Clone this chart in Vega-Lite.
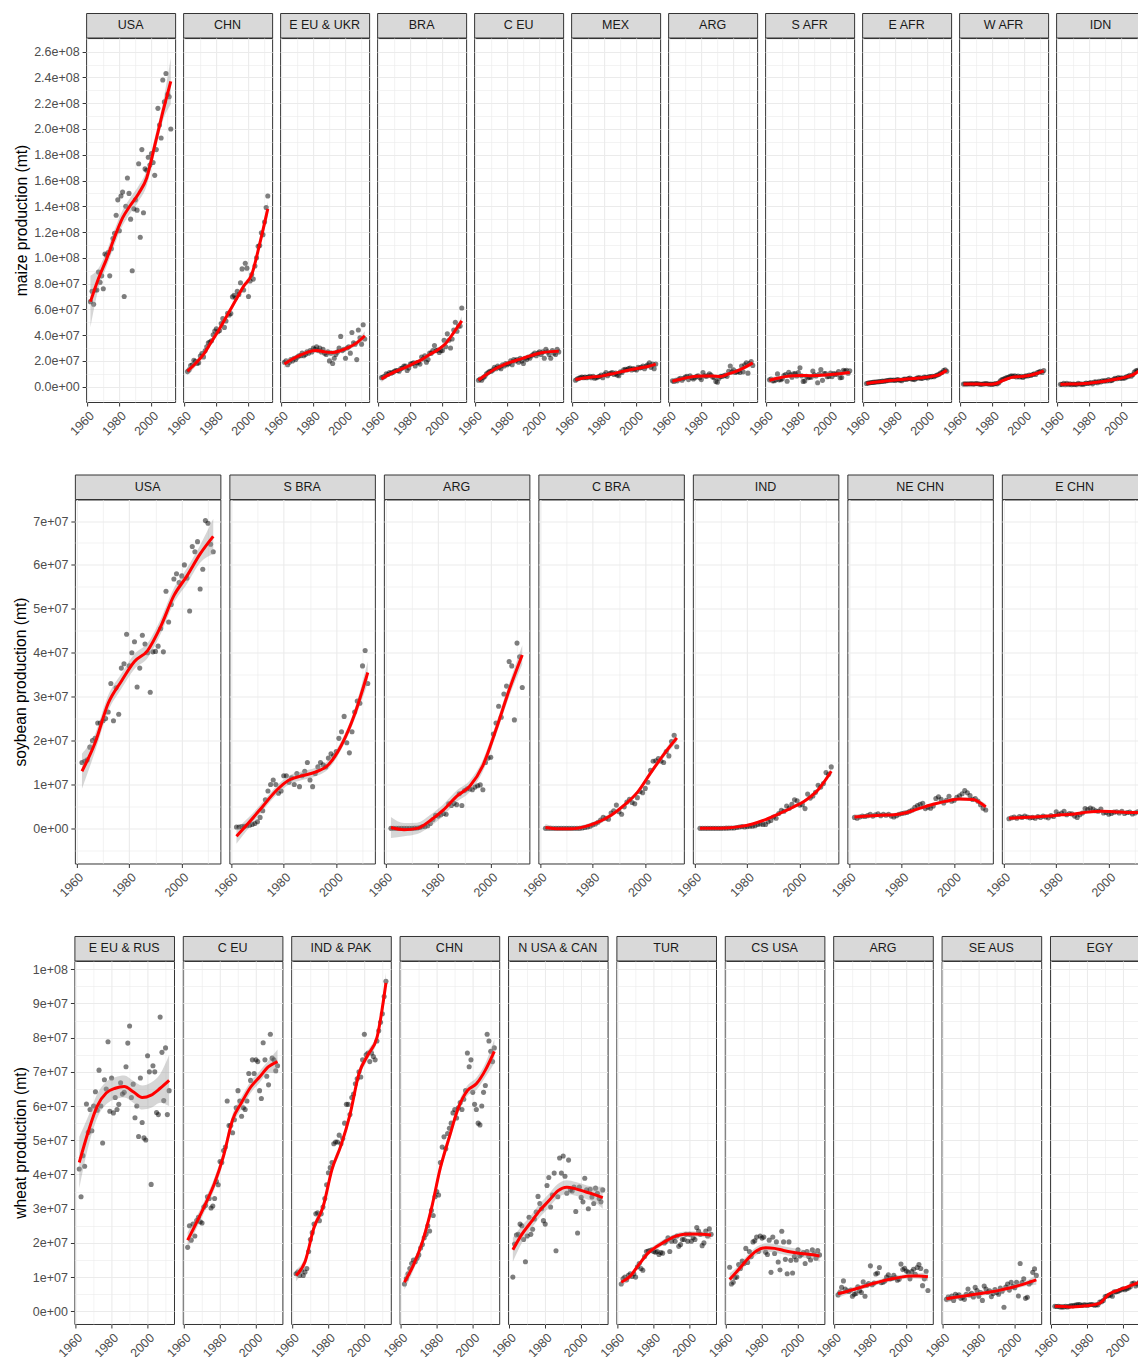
{
"$schema":"https://vega.github.io/schema/vega-lite/v6.json",
"padding":{"left":12.2,"top":12,"right":5,"bottom":2},
"background":"white",
"config":{
"font":"Liberation Sans",
"axis":{"domain":false,"labelFont":"Liberation Sans","labelFontSize":12.5,"labelColor":"#4D4D4D","tickSize":4,"tickWidth":1,"labelPadding":3,"gridColor":"#EBEBEB","titleFont":"Liberation Sans","titleFontSize":15.7,"titleFontWeight":"normal","titleColor":"#000000","titlePadding":4,"labelOverlap":false,"labelFlush":false,"labelBound":false},
"view":{"stroke":"#333333","strokeWidth":1}
},
"datasets":{
"maize":[
{"p":"USA","x":1962,"y":66},{"p":"USA","x":1963,"y":74},{"p":"USA","x":1964,"y":64},{"p":"USA","x":1965,"y":75},{"p":"USA","x":1966,"y":75},{"p":"USA","x":1967,"y":89},{"p":"USA","x":1968,"y":81},{"p":"USA","x":1969,"y":86},{"p":"USA","x":1970,"y":76},{"p":"USA","x":1971,"y":103},
{"p":"USA","x":1972,"y":102},{"p":"USA","x":1973,"y":104},{"p":"USA","x":1974,"y":86},{"p":"USA","x":1975,"y":107},{"p":"USA","x":1976,"y":115},{"p":"USA","x":1977,"y":119},{"p":"USA","x":1978,"y":133},{"p":"USA","x":1979,"y":145},{"p":"USA","x":1980,"y":121},{"p":"USA","x":1981,"y":148},
{"p":"USA","x":1982,"y":151},{"p":"USA","x":1983,"y":70},{"p":"USA","x":1984,"y":140},{"p":"USA","x":1985,"y":162},{"p":"USA","x":1986,"y":150},{"p":"USA","x":1987,"y":130},{"p":"USA","x":1988,"y":90},{"p":"USA","x":1989,"y":138},{"p":"USA","x":1990,"y":145},{"p":"USA","x":1991,"y":137},
{"p":"USA","x":1992,"y":173},{"p":"USA","x":1993,"y":116},{"p":"USA","x":1994,"y":184},{"p":"USA","x":1995,"y":135},{"p":"USA","x":1996,"y":169},{"p":"USA","x":1997,"y":168},{"p":"USA","x":1998,"y":178},{"p":"USA","x":1999,"y":172},{"p":"USA","x":2000,"y":181},{"p":"USA","x":2001,"y":174},
{"p":"USA","x":2002,"y":164},{"p":"USA","x":2003,"y":184},{"p":"USA","x":2004,"y":216},{"p":"USA","x":2005,"y":203},{"p":"USA","x":2006,"y":193},{"p":"USA","x":2007,"y":238},{"p":"USA","x":2008,"y":221},{"p":"USA","x":2009,"y":243},{"p":"USA","x":2010,"y":227},{"p":"USA","x":2011,"y":225},{"p":"USA","x":2012,"y":200},
{"p":"CHN","x":1962,"y":11.7},{"p":"CHN","x":1963,"y":13},{"p":"CHN","x":1964,"y":16.3},{"p":"CHN","x":1965,"y":17},{"p":"CHN","x":1966,"y":20.5},{"p":"CHN","x":1967,"y":19.7},{"p":"CHN","x":1968,"y":18},{"p":"CHN","x":1969,"y":18.6},{"p":"CHN","x":1970,"y":23.8},{"p":"CHN","x":1971,"y":25.8},
{"p":"CHN","x":1972,"y":23.1},{"p":"CHN","x":1973,"y":27.8},{"p":"CHN","x":1974,"y":31},{"p":"CHN","x":1975,"y":34},{"p":"CHN","x":1976,"y":34.7},{"p":"CHN","x":1977,"y":35.6},{"p":"CHN","x":1978,"y":40.3},{"p":"CHN","x":1979,"y":43.2},{"p":"CHN","x":1980,"y":45},{"p":"CHN","x":1981,"y":42.6},
{"p":"CHN","x":1982,"y":43.6},{"p":"CHN","x":1983,"y":49},{"p":"CHN","x":1984,"y":52.8},{"p":"CHN","x":1985,"y":46},{"p":"CHN","x":1986,"y":51},{"p":"CHN","x":1987,"y":57},{"p":"CHN","x":1988,"y":55.7},{"p":"CHN","x":1989,"y":56.8},{"p":"CHN","x":1990,"y":69.7},{"p":"CHN","x":1991,"y":71},
{"p":"CHN","x":1992,"y":68.8},{"p":"CHN","x":1993,"y":74},{"p":"CHN","x":1994,"y":71.5},{"p":"CHN","x":1995,"y":80.6},{"p":"CHN","x":1996,"y":91.4},{"p":"CHN","x":1997,"y":75},{"p":"CHN","x":1998,"y":95.8},{"p":"CHN","x":1999,"y":92},{"p":"CHN","x":2000,"y":70},{"p":"CHN","x":2001,"y":82},
{"p":"CHN","x":2002,"y":87},{"p":"CHN","x":2003,"y":83.5},{"p":"CHN","x":2004,"y":93.6},{"p":"CHN","x":2005,"y":100},{"p":"CHN","x":2006,"y":109},{"p":"CHN","x":2007,"y":109.5},{"p":"CHN","x":2008,"y":119.5},{"p":"CHN","x":2009,"y":118},{"p":"CHN","x":2010,"y":127.8},{"p":"CHN","x":2011,"y":139},{"p":"CHN","x":2012,"y":148},
{"p":"E EU & UKR","x":1962,"y":19},{"p":"E EU & UKR","x":1963,"y":20},{"p":"E EU & UKR","x":1964,"y":17},{"p":"E EU & UKR","x":1965,"y":19},{"p":"E EU & UKR","x":1966,"y":21},{"p":"E EU & UKR","x":1967,"y":20},{"p":"E EU & UKR","x":1968,"y":22},{"p":"E EU & UKR","x":1969,"y":21},{"p":"E EU & UKR","x":1970,"y":23},{"p":"E EU & UKR","x":1971,"y":24},
{"p":"E EU & UKR","x":1972,"y":24},{"p":"E EU & UKR","x":1973,"y":26},{"p":"E EU & UKR","x":1974,"y":24},{"p":"E EU & UKR","x":1975,"y":25},{"p":"E EU & UKR","x":1976,"y":27},{"p":"E EU & UKR","x":1977,"y":26},{"p":"E EU & UKR","x":1978,"y":28},{"p":"E EU & UKR","x":1979,"y":27},{"p":"E EU & UKR","x":1980,"y":30},{"p":"E EU & UKR","x":1981,"y":29},
{"p":"E EU & UKR","x":1982,"y":31},{"p":"E EU & UKR","x":1983,"y":28},{"p":"E EU & UKR","x":1984,"y":30},{"p":"E EU & UKR","x":1985,"y":27},{"p":"E EU & UKR","x":1986,"y":29},{"p":"E EU & UKR","x":1987,"y":26},{"p":"E EU & UKR","x":1988,"y":25},{"p":"E EU & UKR","x":1989,"y":27},{"p":"E EU & UKR","x":1990,"y":20},{"p":"E EU & UKR","x":1991,"y":26},
{"p":"E EU & UKR","x":1992,"y":18},{"p":"E EU & UKR","x":1993,"y":22},{"p":"E EU & UKR","x":1994,"y":25},{"p":"E EU & UKR","x":1995,"y":27},{"p":"E EU & UKR","x":1996,"y":30},{"p":"E EU & UKR","x":1997,"y":39},{"p":"E EU & UKR","x":1998,"y":28},{"p":"E EU & UKR","x":1999,"y":29},{"p":"E EU & UKR","x":2000,"y":22},{"p":"E EU & UKR","x":2001,"y":30},
{"p":"E EU & UKR","x":2002,"y":31},{"p":"E EU & UKR","x":2003,"y":26},{"p":"E EU & UKR","x":2004,"y":42},{"p":"E EU & UKR","x":2005,"y":34},{"p":"E EU & UKR","x":2006,"y":33},{"p":"E EU & UKR","x":2007,"y":21},{"p":"E EU & UKR","x":2008,"y":44},{"p":"E EU & UKR","x":2009,"y":38},{"p":"E EU & UKR","x":2010,"y":33},{"p":"E EU & UKR","x":2011,"y":48},{"p":"E EU & UKR","x":2012,"y":37},
{"p":"BRA","x":1962,"y":7},{"p":"BRA","x":1963,"y":7.5},{"p":"BRA","x":1964,"y":8},{"p":"BRA","x":1965,"y":10},{"p":"BRA","x":1966,"y":9.5},{"p":"BRA","x":1967,"y":11},{"p":"BRA","x":1968,"y":10.5},{"p":"BRA","x":1969,"y":11},{"p":"BRA","x":1970,"y":12},{"p":"BRA","x":1971,"y":12.5},
{"p":"BRA","x":1972,"y":12.5},{"p":"BRA","x":1973,"y":12},{"p":"BRA","x":1974,"y":14},{"p":"BRA","x":1975,"y":14.5},{"p":"BRA","x":1976,"y":16},{"p":"BRA","x":1977,"y":16},{"p":"BRA","x":1978,"y":12.5},{"p":"BRA","x":1979,"y":14.5},{"p":"BRA","x":1980,"y":17.5},{"p":"BRA","x":1981,"y":18},
{"p":"BRA","x":1982,"y":18.5},{"p":"BRA","x":1983,"y":16},{"p":"BRA","x":1984,"y":18.5},{"p":"BRA","x":1985,"y":19},{"p":"BRA","x":1986,"y":17.5},{"p":"BRA","x":1987,"y":23},{"p":"BRA","x":1988,"y":21.5},{"p":"BRA","x":1989,"y":24},{"p":"BRA","x":1990,"y":19},{"p":"BRA","x":1991,"y":21},
{"p":"BRA","x":1992,"y":26},{"p":"BRA","x":1993,"y":26},{"p":"BRA","x":1994,"y":28},{"p":"BRA","x":1995,"y":32},{"p":"BRA","x":1996,"y":28},{"p":"BRA","x":1997,"y":28.5},{"p":"BRA","x":1998,"y":26.5},{"p":"BRA","x":1999,"y":28},{"p":"BRA","x":2000,"y":28},{"p":"BRA","x":2001,"y":36},
{"p":"BRA","x":2002,"y":31},{"p":"BRA","x":2003,"y":41},{"p":"BRA","x":2004,"y":36},{"p":"BRA","x":2005,"y":30},{"p":"BRA","x":2006,"y":37},{"p":"BRA","x":2007,"y":44},{"p":"BRA","x":2008,"y":50},{"p":"BRA","x":2009,"y":43},{"p":"BRA","x":2010,"y":47},{"p":"BRA","x":2011,"y":47},{"p":"BRA","x":2012,"y":61},
{"p":"C EU","x":1962,"y":5},{"p":"C EU","x":1963,"y":6},{"p":"C EU","x":1964,"y":5},{"p":"C EU","x":1965,"y":7},{"p":"C EU","x":1966,"y":8},{"p":"C EU","x":1967,"y":10},{"p":"C EU","x":1968,"y":11},{"p":"C EU","x":1969,"y":12},{"p":"C EU","x":1970,"y":12},{"p":"C EU","x":1971,"y":13},
{"p":"C EU","x":1972,"y":15},{"p":"C EU","x":1973,"y":14},{"p":"C EU","x":1974,"y":16},{"p":"C EU","x":1975,"y":15},{"p":"C EU","x":1976,"y":14},{"p":"C EU","x":1977,"y":17},{"p":"C EU","x":1978,"y":16},{"p":"C EU","x":1979,"y":18},{"p":"C EU","x":1980,"y":17},{"p":"C EU","x":1981,"y":18},
{"p":"C EU","x":1982,"y":20},{"p":"C EU","x":1983,"y":17},{"p":"C EU","x":1984,"y":21},{"p":"C EU","x":1985,"y":20},{"p":"C EU","x":1986,"y":21},{"p":"C EU","x":1987,"y":19},{"p":"C EU","x":1988,"y":22},{"p":"C EU","x":1989,"y":20},{"p":"C EU","x":1990,"y":18},{"p":"C EU","x":1991,"y":22},
{"p":"C EU","x":1992,"y":21},{"p":"C EU","x":1993,"y":23},{"p":"C EU","x":1994,"y":22},{"p":"C EU","x":1995,"y":24},{"p":"C EU","x":1996,"y":25},{"p":"C EU","x":1997,"y":26},{"p":"C EU","x":1998,"y":24},{"p":"C EU","x":1999,"y":26},{"p":"C EU","x":2000,"y":27},{"p":"C EU","x":2001,"y":25},
{"p":"C EU","x":2002,"y":27},{"p":"C EU","x":2003,"y":22},{"p":"C EU","x":2004,"y":29},{"p":"C EU","x":2005,"y":27},{"p":"C EU","x":2006,"y":25},{"p":"C EU","x":2007,"y":22},{"p":"C EU","x":2008,"y":28},{"p":"C EU","x":2009,"y":26},{"p":"C EU","x":2010,"y":25},{"p":"C EU","x":2011,"y":29},{"p":"C EU","x":2012,"y":27},
{"p":"MEX","x":1962,"y":5},{"p":"MEX","x":1963,"y":6},{"p":"MEX","x":1964,"y":6.5},{"p":"MEX","x":1965,"y":7},{"p":"MEX","x":1966,"y":7.5},{"p":"MEX","x":1967,"y":7},{"p":"MEX","x":1968,"y":7.5},{"p":"MEX","x":1969,"y":7},{"p":"MEX","x":1970,"y":7.5},{"p":"MEX","x":1971,"y":8},
{"p":"MEX","x":1972,"y":7},{"p":"MEX","x":1973,"y":8},{"p":"MEX","x":1974,"y":6.5},{"p":"MEX","x":1975,"y":7},{"p":"MEX","x":1976,"y":7.5},{"p":"MEX","x":1977,"y":8},{"p":"MEX","x":1978,"y":9},{"p":"MEX","x":1979,"y":7},{"p":"MEX","x":1980,"y":9.5},{"p":"MEX","x":1981,"y":11},
{"p":"MEX","x":1982,"y":8.5},{"p":"MEX","x":1983,"y":10},{"p":"MEX","x":1984,"y":10.5},{"p":"MEX","x":1985,"y":11},{"p":"MEX","x":1986,"y":9.5},{"p":"MEX","x":1987,"y":10.5},{"p":"MEX","x":1988,"y":9},{"p":"MEX","x":1989,"y":8.5},{"p":"MEX","x":1990,"y":11.5},{"p":"MEX","x":1991,"y":11},
{"p":"MEX","x":1992,"y":13},{"p":"MEX","x":1993,"y":13.5},{"p":"MEX","x":1994,"y":13},{"p":"MEX","x":1995,"y":14},{"p":"MEX","x":1996,"y":14.5},{"p":"MEX","x":1997,"y":13},{"p":"MEX","x":1998,"y":14},{"p":"MEX","x":1999,"y":13.5},{"p":"MEX","x":2000,"y":13},{"p":"MEX","x":2001,"y":15},
{"p":"MEX","x":2002,"y":14.5},{"p":"MEX","x":2003,"y":15},{"p":"MEX","x":2004,"y":16},{"p":"MEX","x":2005,"y":14},{"p":"MEX","x":2006,"y":16},{"p":"MEX","x":2007,"y":17},{"p":"MEX","x":2008,"y":18.5},{"p":"MEX","x":2009,"y":15},{"p":"MEX","x":2010,"y":17.5},{"p":"MEX","x":2011,"y":14},{"p":"MEX","x":2012,"y":17.5},
{"p":"ARG","x":1962,"y":4.5},{"p":"ARG","x":1963,"y":4},{"p":"ARG","x":1964,"y":5},{"p":"ARG","x":1965,"y":4.5},{"p":"ARG","x":1966,"y":6},{"p":"ARG","x":1967,"y":6.5},{"p":"ARG","x":1968,"y":5},{"p":"ARG","x":1969,"y":6.5},{"p":"ARG","x":1970,"y":7.5},{"p":"ARG","x":1971,"y":8},
{"p":"ARG","x":1972,"y":5.5},{"p":"ARG","x":1973,"y":8.5},{"p":"ARG","x":1974,"y":7},{"p":"ARG","x":1975,"y":6},{"p":"ARG","x":1976,"y":7},{"p":"ARG","x":1977,"y":8},{"p":"ARG","x":1978,"y":8.5},{"p":"ARG","x":1979,"y":7},{"p":"ARG","x":1980,"y":5.5},{"p":"ARG","x":1981,"y":11},
{"p":"ARG","x":1982,"y":8.5},{"p":"ARG","x":1983,"y":8},{"p":"ARG","x":1984,"y":8.5},{"p":"ARG","x":1985,"y":10},{"p":"ARG","x":1986,"y":9},{"p":"ARG","x":1987,"y":7.5},{"p":"ARG","x":1988,"y":7},{"p":"ARG","x":1989,"y":4},{"p":"ARG","x":1990,"y":3.5},{"p":"ARG","x":1991,"y":6.5},
{"p":"ARG","x":1992,"y":8},{"p":"ARG","x":1993,"y":8},{"p":"ARG","x":1994,"y":8.5},{"p":"ARG","x":1995,"y":9},{"p":"ARG","x":1996,"y":8},{"p":"ARG","x":1997,"y":12},{"p":"ARG","x":1998,"y":16},{"p":"ARG","x":1999,"y":11.5},{"p":"ARG","x":2000,"y":13},{"p":"ARG","x":2001,"y":11},
{"p":"ARG","x":2002,"y":11.5},{"p":"ARG","x":2003,"y":12},{"p":"ARG","x":2004,"y":11},{"p":"ARG","x":2005,"y":16},{"p":"ARG","x":2006,"y":11.5},{"p":"ARG","x":2007,"y":17},{"p":"ARG","x":2008,"y":18.5},{"p":"ARG","x":2009,"y":10.5},{"p":"ARG","x":2010,"y":18},{"p":"ARG","x":2011,"y":19.5},{"p":"ARG","x":2012,"y":16.5},
{"p":"S AFR","x":1962,"y":5.3},{"p":"S AFR","x":1963,"y":6},{"p":"S AFR","x":1964,"y":4.5},{"p":"S AFR","x":1965,"y":4.6},{"p":"S AFR","x":1966,"y":5.3},{"p":"S AFR","x":1967,"y":9.9},{"p":"S AFR","x":1968,"y":5.3},{"p":"S AFR","x":1969,"y":5.4},{"p":"S AFR","x":1970,"y":6.1},{"p":"S AFR","x":1971,"y":8.6},
{"p":"S AFR","x":1972,"y":9.5},{"p":"S AFR","x":1973,"y":4.2},{"p":"S AFR","x":1974,"y":11.1},{"p":"S AFR","x":1975,"y":9.2},{"p":"S AFR","x":1976,"y":7.3},{"p":"S AFR","x":1977,"y":9.9},{"p":"S AFR","x":1978,"y":10.2},{"p":"S AFR","x":1979,"y":8.3},{"p":"S AFR","x":1980,"y":11},{"p":"S AFR","x":1981,"y":14.7},
{"p":"S AFR","x":1982,"y":8.4},{"p":"S AFR","x":1983,"y":4.1},{"p":"S AFR","x":1984,"y":4.4},{"p":"S AFR","x":1985,"y":8.1},{"p":"S AFR","x":1986,"y":7},{"p":"S AFR","x":1987,"y":7.3},{"p":"S AFR","x":1988,"y":7.3},{"p":"S AFR","x":1989,"y":12.1},{"p":"S AFR","x":1990,"y":9.2},{"p":"S AFR","x":1991,"y":8.3},
{"p":"S AFR","x":1992,"y":3.1},{"p":"S AFR","x":1993,"y":9.7},{"p":"S AFR","x":1994,"y":13.3},{"p":"S AFR","x":1995,"y":4.9},{"p":"S AFR","x":1996,"y":10.2},{"p":"S AFR","x":1997,"y":10.1},{"p":"S AFR","x":1998,"y":7.7},{"p":"S AFR","x":1999,"y":7.9},{"p":"S AFR","x":2000,"y":10.6},{"p":"S AFR","x":2001,"y":7.8},
{"p":"S AFR","x":2002,"y":10.1},{"p":"S AFR","x":2003,"y":9.7},{"p":"S AFR","x":2004,"y":9.7},{"p":"S AFR","x":2005,"y":11.7},{"p":"S AFR","x":2006,"y":6.9},{"p":"S AFR","x":2007,"y":7.1},{"p":"S AFR","x":2008,"y":12.7},{"p":"S AFR","x":2009,"y":12.1},{"p":"S AFR","x":2010,"y":12.8},{"p":"S AFR","x":2011,"y":10.4},{"p":"S AFR","x":2012,"y":12.4},
{"p":"E AFR","x":1962,"y":2.5},{"p":"E AFR","x":1963,"y":2.8},{"p":"E AFR","x":1964,"y":3},{"p":"E AFR","x":1965,"y":3.2},{"p":"E AFR","x":1966,"y":3.3},{"p":"E AFR","x":1967,"y":3.5},{"p":"E AFR","x":1968,"y":3.6},{"p":"E AFR","x":1969,"y":3.8},{"p":"E AFR","x":1970,"y":3.9},{"p":"E AFR","x":1971,"y":4},
{"p":"E AFR","x":1972,"y":4.3},{"p":"E AFR","x":1973,"y":4.2},{"p":"E AFR","x":1974,"y":4.5},{"p":"E AFR","x":1975,"y":4.7},{"p":"E AFR","x":1976,"y":5},{"p":"E AFR","x":1977,"y":5.2},{"p":"E AFR","x":1978,"y":5},{"p":"E AFR","x":1979,"y":5.2},{"p":"E AFR","x":1980,"y":4.8},{"p":"E AFR","x":1981,"y":5.5},
{"p":"E AFR","x":1982,"y":5.3},{"p":"E AFR","x":1983,"y":5},{"p":"E AFR","x":1984,"y":4.6},{"p":"E AFR","x":1985,"y":5.8},{"p":"E AFR","x":1986,"y":6},{"p":"E AFR","x":1987,"y":5.6},{"p":"E AFR","x":1988,"y":6.3},{"p":"E AFR","x":1989,"y":6.6},{"p":"E AFR","x":1990,"y":6},{"p":"E AFR","x":1991,"y":5.8},
{"p":"E AFR","x":1992,"y":5.5},{"p":"E AFR","x":1993,"y":6.5},{"p":"E AFR","x":1994,"y":6.8},{"p":"E AFR","x":1995,"y":7},{"p":"E AFR","x":1996,"y":6.4},{"p":"E AFR","x":1997,"y":6.6},{"p":"E AFR","x":1998,"y":7.5},{"p":"E AFR","x":1999,"y":7.2},{"p":"E AFR","x":2000,"y":6.8},{"p":"E AFR","x":2001,"y":7.8},
{"p":"E AFR","x":2002,"y":7.6},{"p":"E AFR","x":2003,"y":8},{"p":"E AFR","x":2004,"y":7.7},{"p":"E AFR","x":2005,"y":8.5},{"p":"E AFR","x":2006,"y":9},{"p":"E AFR","x":2007,"y":9.4},{"p":"E AFR","x":2008,"y":10.5},{"p":"E AFR","x":2009,"y":11},{"p":"E AFR","x":2010,"y":12.5},{"p":"E AFR","x":2011,"y":13},{"p":"E AFR","x":2012,"y":12},
{"p":"W AFR","x":1962,"y":2},{"p":"W AFR","x":1963,"y":2.2},{"p":"W AFR","x":1964,"y":2},{"p":"W AFR","x":1965,"y":2.3},{"p":"W AFR","x":1966,"y":2.1},{"p":"W AFR","x":1967,"y":2.4},{"p":"W AFR","x":1968,"y":2},{"p":"W AFR","x":1969,"y":2.2},{"p":"W AFR","x":1970,"y":2.5},{"p":"W AFR","x":1971,"y":2.3},
{"p":"W AFR","x":1972,"y":2},{"p":"W AFR","x":1973,"y":1.8},{"p":"W AFR","x":1974,"y":2.1},{"p":"W AFR","x":1975,"y":2.2},{"p":"W AFR","x":1976,"y":2.4},{"p":"W AFR","x":1977,"y":2.3},{"p":"W AFR","x":1978,"y":1.9},{"p":"W AFR","x":1979,"y":2},{"p":"W AFR","x":1980,"y":1.8},{"p":"W AFR","x":1981,"y":2.1},
{"p":"W AFR","x":1982,"y":2.5},{"p":"W AFR","x":1983,"y":2.2},{"p":"W AFR","x":1984,"y":3},{"p":"W AFR","x":1985,"y":4.5},{"p":"W AFR","x":1986,"y":5.5},{"p":"W AFR","x":1987,"y":6},{"p":"W AFR","x":1988,"y":6.5},{"p":"W AFR","x":1989,"y":7},{"p":"W AFR","x":1990,"y":7.2},{"p":"W AFR","x":1991,"y":8},
{"p":"W AFR","x":1992,"y":8.5},{"p":"W AFR","x":1993,"y":8},{"p":"W AFR","x":1994,"y":8.4},{"p":"W AFR","x":1995,"y":7.6},{"p":"W AFR","x":1996,"y":8.2},{"p":"W AFR","x":1997,"y":7.5},{"p":"W AFR","x":1998,"y":8},{"p":"W AFR","x":1999,"y":7.2},{"p":"W AFR","x":2000,"y":8},{"p":"W AFR","x":2001,"y":8.5},
{"p":"W AFR","x":2002,"y":8.3},{"p":"W AFR","x":2003,"y":9},{"p":"W AFR","x":2004,"y":8.7},{"p":"W AFR","x":2005,"y":9.5},{"p":"W AFR","x":2006,"y":10},{"p":"W AFR","x":2007,"y":9.5},{"p":"W AFR","x":2008,"y":11},{"p":"W AFR","x":2009,"y":11.4},{"p":"W AFR","x":2010,"y":12},{"p":"W AFR","x":2011,"y":11},{"p":"W AFR","x":2012,"y":12.5},
{"p":"IDN","x":1962,"y":1.8},{"p":"IDN","x":1963,"y":1.7},{"p":"IDN","x":1964,"y":2.6},{"p":"IDN","x":1965,"y":1.6},{"p":"IDN","x":1966,"y":2.6},{"p":"IDN","x":1967,"y":1.7},{"p":"IDN","x":1968,"y":2.2},{"p":"IDN","x":1969,"y":1.6},{"p":"IDN","x":1970,"y":2},{"p":"IDN","x":1971,"y":1.8},
{"p":"IDN","x":1972,"y":1.6},{"p":"IDN","x":1973,"y":2.6},{"p":"IDN","x":1974,"y":2.1},{"p":"IDN","x":1975,"y":2},{"p":"IDN","x":1976,"y":1.8},{"p":"IDN","x":1977,"y":2.2},{"p":"IDN","x":1978,"y":2.8},{"p":"IDN","x":1979,"y":2.5},{"p":"IDN","x":1980,"y":2.8},{"p":"IDN","x":1981,"y":3.2},
{"p":"IDN","x":1982,"y":2.2},{"p":"IDN","x":1983,"y":3.6},{"p":"IDN","x":1984,"y":3.7},{"p":"IDN","x":1985,"y":3},{"p":"IDN","x":1986,"y":4.1},{"p":"IDN","x":1987,"y":3.6},{"p":"IDN","x":1988,"y":4.6},{"p":"IDN","x":1989,"y":4.3},{"p":"IDN","x":1990,"y":4.7},{"p":"IDN","x":1991,"y":4.4},
{"p":"IDN","x":1992,"y":5.5},{"p":"IDN","x":1993,"y":4.6},{"p":"IDN","x":1994,"y":4.8},{"p":"IDN","x":1995,"y":5.7},{"p":"IDN","x":1996,"y":6.5},{"p":"IDN","x":1997,"y":6.2},{"p":"IDN","x":1998,"y":7.1},{"p":"IDN","x":1999,"y":6.4},{"p":"IDN","x":2000,"y":6.8},{"p":"IDN","x":2001,"y":6.5},
{"p":"IDN","x":2002,"y":6.8},{"p":"IDN","x":2003,"y":7.6},{"p":"IDN","x":2004,"y":7.8},{"p":"IDN","x":2005,"y":8.8},{"p":"IDN","x":2006,"y":8.1},{"p":"IDN","x":2007,"y":9.3},{"p":"IDN","x":2008,"y":11.4},{"p":"IDN","x":2009,"y":12.3},{"p":"IDN","x":2010,"y":12.8},{"p":"IDN","x":2011,"y":12.3},{"p":"IDN","x":2012,"y":13.6},
{"p":"USA","x":1962,"f":66,"lo":46,"hi":86},{"p":"USA","x":1967,"f":84,"lo":76,"hi":92},{"p":"USA","x":1972,"f":99,"lo":93,"hi":105},{"p":"USA","x":1977,"f":116,"lo":110,"hi":122},{"p":"USA","x":1982,"f":131,"lo":125,"hi":137},{"p":"USA","x":1987,"f":141,"lo":135,"hi":147},{"p":"USA","x":1992,"f":150,"lo":144,"hi":156},{"p":"USA","x":1997,"f":162,"lo":156,"hi":168},{"p":"USA","x":2002,"f":187,"lo":181,"hi":193},{"p":"USA","x":2007,"f":213,"lo":206,"hi":220},{"p":"USA","x":2012,"f":237,"lo":219,"hi":255},
{"p":"CHN","x":1962,"f":12,"lo":9,"hi":15},{"p":"CHN","x":1967,"f":18,"lo":15.5,"hi":20.5},{"p":"CHN","x":1972,"f":25,"lo":23,"hi":27},{"p":"CHN","x":1977,"f":35,"lo":33,"hi":37},{"p":"CHN","x":1982,"f":45,"lo":43,"hi":47},{"p":"CHN","x":1987,"f":56,"lo":54,"hi":58},{"p":"CHN","x":1992,"f":67,"lo":65,"hi":69},{"p":"CHN","x":1997,"f":78,"lo":76,"hi":80},{"p":"CHN","x":2002,"f":87,"lo":84.5,"hi":89.5},{"p":"CHN","x":2007,"f":111,"lo":108,"hi":114},{"p":"CHN","x":2012,"f":138,"lo":132,"hi":144},
{"p":"E EU & UKR","x":1962,"f":17.6,"lo":14.5,"hi":20.7},{"p":"E EU & UKR","x":1967,"f":21.5,"lo":19.5,"hi":23.5},{"p":"E EU & UKR","x":1972,"f":24.5,"lo":22.8,"hi":26.2},{"p":"E EU & UKR","x":1977,"f":27,"lo":25.3,"hi":28.7},{"p":"E EU & UKR","x":1982,"f":28,"lo":26.3,"hi":29.7},{"p":"E EU & UKR","x":1987,"f":27,"lo":25.3,"hi":28.7},{"p":"E EU & UKR","x":1992,"f":26.5,"lo":24.8,"hi":28.2},{"p":"E EU & UKR","x":1997,"f":28,"lo":26.3,"hi":29.7},{"p":"E EU & UKR","x":2002,"f":30.5,"lo":28.8,"hi":32.2},{"p":"E EU & UKR","x":2007,"f":34,"lo":32,"hi":36},{"p":"E EU & UKR","x":2012,"f":39.5,"lo":36,"hi":43},
{"p":"BRA","x":1962,"f":6,"lo":3.5,"hi":8.5},{"p":"BRA","x":1967,"f":9.5,"lo":8,"hi":11},{"p":"BRA","x":1972,"f":12.5,"lo":11.2,"hi":13.8},{"p":"BRA","x":1977,"f":15,"lo":13.7,"hi":16.3},{"p":"BRA","x":1982,"f":18,"lo":16.7,"hi":19.3},{"p":"BRA","x":1987,"f":21,"lo":19.7,"hi":22.3},{"p":"BRA","x":1992,"f":25,"lo":23.7,"hi":26.3},{"p":"BRA","x":1997,"f":28.5,"lo":27.2,"hi":29.8},{"p":"BRA","x":2002,"f":33.5,"lo":32,"hi":35},{"p":"BRA","x":2007,"f":42,"lo":40.3,"hi":43.7},{"p":"BRA","x":2012,"f":51,"lo":47.5,"hi":54.5},
{"p":"C EU","x":1962,"f":5.2,"lo":3.5,"hi":6.9},{"p":"C EU","x":1967,"f":9.5,"lo":8.4,"hi":10.6},{"p":"C EU","x":1972,"f":13.5,"lo":12.5,"hi":14.5},{"p":"C EU","x":1977,"f":16.5,"lo":15.5,"hi":17.5},{"p":"C EU","x":1982,"f":19,"lo":18,"hi":20},{"p":"C EU","x":1987,"f":21,"lo":20,"hi":22},{"p":"C EU","x":1992,"f":23,"lo":22,"hi":24},{"p":"C EU","x":1997,"f":25,"lo":24,"hi":26},{"p":"C EU","x":2002,"f":26.5,"lo":25.5,"hi":27.5},{"p":"C EU","x":2007,"f":27.2,"lo":26,"hi":28.4},{"p":"C EU","x":2012,"f":27.4,"lo":25.5,"hi":29.3},
{"p":"MEX","x":1962,"f":5.5,"lo":4.2,"hi":6.8},{"p":"MEX","x":1967,"f":6.8,"lo":6,"hi":7.6},{"p":"MEX","x":1972,"f":7.5,"lo":6.8,"hi":8.2},{"p":"MEX","x":1977,"f":8,"lo":7.3,"hi":8.7},{"p":"MEX","x":1982,"f":9.3,"lo":8.6,"hi":10},{"p":"MEX","x":1987,"f":10.5,"lo":9.8,"hi":11.2},{"p":"MEX","x":1992,"f":12,"lo":11.3,"hi":12.7},{"p":"MEX","x":1997,"f":13.3,"lo":12.6,"hi":14},{"p":"MEX","x":2002,"f":14.5,"lo":13.8,"hi":15.2},{"p":"MEX","x":2007,"f":15.7,"lo":14.9,"hi":16.5},{"p":"MEX","x":2012,"f":17.5,"lo":16.2,"hi":18.8},
{"p":"ARG","x":1962,"f":4.2,"lo":2,"hi":6.4},{"p":"ARG","x":1967,"f":5.8,"lo":4.3,"hi":7.3},{"p":"ARG","x":1972,"f":7.2,"lo":5.9,"hi":8.5},{"p":"ARG","x":1977,"f":8,"lo":6.7,"hi":9.3},{"p":"ARG","x":1982,"f":8.3,"lo":7,"hi":9.6},{"p":"ARG","x":1987,"f":8.2,"lo":6.9,"hi":9.5},{"p":"ARG","x":1992,"f":7.8,"lo":6.5,"hi":9.1},{"p":"ARG","x":1997,"f":10,"lo":8.7,"hi":11.3},{"p":"ARG","x":2002,"f":12,"lo":10.7,"hi":13.3},{"p":"ARG","x":2007,"f":15,"lo":13.5,"hi":16.5},{"p":"ARG","x":2012,"f":18.5,"lo":16,"hi":21},
{"p":"S AFR","x":1962,"f":5,"lo":2.8,"hi":7.2},{"p":"S AFR","x":1967,"f":6.5,"lo":5,"hi":8},{"p":"S AFR","x":1972,"f":7.8,"lo":6.5,"hi":9.1},{"p":"S AFR","x":1977,"f":8.5,"lo":7.2,"hi":9.8},{"p":"S AFR","x":1982,"f":8.7,"lo":7.4,"hi":10},{"p":"S AFR","x":1987,"f":8.5,"lo":7.2,"hi":9.8},{"p":"S AFR","x":1992,"f":8.6,"lo":7.3,"hi":9.9},{"p":"S AFR","x":1997,"f":9,"lo":7.7,"hi":10.3},{"p":"S AFR","x":2002,"f":9.6,"lo":8.3,"hi":10.9},{"p":"S AFR","x":2007,"f":10.2,"lo":8.8,"hi":11.6},{"p":"S AFR","x":2012,"f":11,"lo":8.8,"hi":13.2},
{"p":"E AFR","x":1962,"f":2.6,"lo":1.8,"hi":3.4},{"p":"E AFR","x":1967,"f":3.4,"lo":3,"hi":3.8},{"p":"E AFR","x":1972,"f":4.1,"lo":3.7,"hi":4.5},{"p":"E AFR","x":1977,"f":4.8,"lo":4.4,"hi":5.2},{"p":"E AFR","x":1982,"f":5.3,"lo":4.9,"hi":5.7},{"p":"E AFR","x":1987,"f":5.9,"lo":5.5,"hi":6.3},{"p":"E AFR","x":1992,"f":6.4,"lo":6,"hi":6.8},{"p":"E AFR","x":1997,"f":7,"lo":6.6,"hi":7.4},{"p":"E AFR","x":2002,"f":7.8,"lo":7.4,"hi":8.2},{"p":"E AFR","x":2007,"f":9.2,"lo":8.8,"hi":9.6},{"p":"E AFR","x":2012,"f":12.8,"lo":12,"hi":13.6},
{"p":"W AFR","x":1962,"f":2.1,"lo":1.4,"hi":2.8},{"p":"W AFR","x":1967,"f":2.1,"lo":1.6,"hi":2.6},{"p":"W AFR","x":1972,"f":2,"lo":1.5,"hi":2.5},{"p":"W AFR","x":1977,"f":1.9,"lo":1.4,"hi":2.4},{"p":"W AFR","x":1982,"f":2.3,"lo":1.8,"hi":2.8},{"p":"W AFR","x":1987,"f":5,"lo":4.5,"hi":5.5},{"p":"W AFR","x":1992,"f":7.2,"lo":6.7,"hi":7.7},{"p":"W AFR","x":1997,"f":7.8,"lo":7.3,"hi":8.3},{"p":"W AFR","x":2002,"f":8.4,"lo":7.9,"hi":8.9},{"p":"W AFR","x":2007,"f":10,"lo":9.5,"hi":10.5},{"p":"W AFR","x":2012,"f":12.3,"lo":11.5,"hi":13.1},
{"p":"IDN","x":1962,"f":1.9,"lo":1.3,"hi":2.5},{"p":"IDN","x":1967,"f":2,"lo":1.6,"hi":2.4},{"p":"IDN","x":1972,"f":2.1,"lo":1.7,"hi":2.5},{"p":"IDN","x":1977,"f":2.4,"lo":2,"hi":2.8},{"p":"IDN","x":1982,"f":3,"lo":2.6,"hi":3.4},{"p":"IDN","x":1987,"f":3.8,"lo":3.4,"hi":4.2},{"p":"IDN","x":1992,"f":4.8,"lo":4.4,"hi":5.2},{"p":"IDN","x":1997,"f":6,"lo":5.6,"hi":6.4},{"p":"IDN","x":2002,"f":7.2,"lo":6.8,"hi":7.6},{"p":"IDN","x":2007,"f":9.2,"lo":8.8,"hi":9.6},{"p":"IDN","x":2012,"f":13.2,"lo":12.4,"hi":14}
],
"soy":[
{"p":"USA","x":1962,"y":15},{"p":"USA","x":1963,"y":15.3},{"p":"USA","x":1964,"y":15.6},{"p":"USA","x":1965,"y":18.5},{"p":"USA","x":1966,"y":20},{"p":"USA","x":1967,"y":20.5},{"p":"USA","x":1968,"y":24},{"p":"USA","x":1969,"y":24},{"p":"USA","x":1970,"y":24.5},{"p":"USA","x":1971,"y":25},
{"p":"USA","x":1972,"y":26.5},{"p":"USA","x":1973,"y":33},{"p":"USA","x":1974,"y":24.5},{"p":"USA","x":1975,"y":32},{"p":"USA","x":1976,"y":26},{"p":"USA","x":1977,"y":36.5},{"p":"USA","x":1978,"y":37.5},{"p":"USA","x":1979,"y":44.2},{"p":"USA","x":1980,"y":37},{"p":"USA","x":1981,"y":40},
{"p":"USA","x":1982,"y":42.5},{"p":"USA","x":1983,"y":32.2},{"p":"USA","x":1984,"y":36.5},{"p":"USA","x":1985,"y":44},{"p":"USA","x":1986,"y":42},{"p":"USA","x":1987,"y":40},{"p":"USA","x":1988,"y":31},{"p":"USA","x":1989,"y":40.2},{"p":"USA","x":1990,"y":40.3},{"p":"USA","x":1991,"y":41.5},
{"p":"USA","x":1992,"y":45.5},{"p":"USA","x":1993,"y":40.2},{"p":"USA","x":1994,"y":54},{"p":"USA","x":1995,"y":47},{"p":"USA","x":1996,"y":51},{"p":"USA","x":1997,"y":56.8},{"p":"USA","x":1998,"y":58},{"p":"USA","x":1999,"y":56},{"p":"USA","x":2000,"y":57.5},{"p":"USA","x":2001,"y":60},
{"p":"USA","x":2002,"y":57},{"p":"USA","x":2003,"y":49.5},{"p":"USA","x":2004,"y":64.2},{"p":"USA","x":2005,"y":63},{"p":"USA","x":2006,"y":65.3},{"p":"USA","x":2007,"y":54.5},{"p":"USA","x":2008,"y":59},{"p":"USA","x":2009,"y":70.1},{"p":"USA","x":2010,"y":69.5},{"p":"USA","x":2011,"y":64.7},{"p":"USA","x":2012,"y":63},
{"p":"S BRA","x":1962,"y":0.3},{"p":"S BRA","x":1963,"y":0.3},{"p":"S BRA","x":1964,"y":0.4},{"p":"S BRA","x":1965,"y":0.5},{"p":"S BRA","x":1966,"y":0.6},{"p":"S BRA","x":1967,"y":0.7},{"p":"S BRA","x":1968,"y":0.9},{"p":"S BRA","x":1969,"y":1.1},{"p":"S BRA","x":1970,"y":1.5},{"p":"S BRA","x":1971,"y":2.5},
{"p":"S BRA","x":1972,"y":4},{"p":"S BRA","x":1973,"y":6.5},{"p":"S BRA","x":1974,"y":8.5},{"p":"S BRA","x":1975,"y":10},{"p":"S BRA","x":1976,"y":11},{"p":"S BRA","x":1977,"y":10},{"p":"S BRA","x":1978,"y":8},{"p":"S BRA","x":1979,"y":8.5},{"p":"S BRA","x":1980,"y":12},{"p":"S BRA","x":1981,"y":12},
{"p":"S BRA","x":1982,"y":10.5},{"p":"S BRA","x":1983,"y":11.5},{"p":"S BRA","x":1984,"y":10},{"p":"S BRA","x":1985,"y":12.5},{"p":"S BRA","x":1986,"y":9.5},{"p":"S BRA","x":1987,"y":12},{"p":"S BRA","x":1988,"y":13},{"p":"S BRA","x":1989,"y":15},{"p":"S BRA","x":1990,"y":11},{"p":"S BRA","x":1991,"y":9.5},
{"p":"S BRA","x":1992,"y":12.5},{"p":"S BRA","x":1993,"y":14},{"p":"S BRA","x":1994,"y":15},{"p":"S BRA","x":1995,"y":14.5},{"p":"S BRA","x":1996,"y":14},{"p":"S BRA","x":1997,"y":16},{"p":"S BRA","x":1998,"y":17},{"p":"S BRA","x":1999,"y":16.5},{"p":"S BRA","x":2000,"y":17.5},{"p":"S BRA","x":2001,"y":20.5},
{"p":"S BRA","x":2002,"y":22},{"p":"S BRA","x":2003,"y":25.5},{"p":"S BRA","x":2004,"y":19.5},{"p":"S BRA","x":2005,"y":17.2},{"p":"S BRA","x":2006,"y":22},{"p":"S BRA","x":2007,"y":26.5},{"p":"S BRA","x":2008,"y":29},{"p":"S BRA","x":2009,"y":28.5},{"p":"S BRA","x":2010,"y":37},{"p":"S BRA","x":2011,"y":40.5},{"p":"S BRA","x":2012,"y":33},
{"p":"ARG","x":1962,"y":0},{"p":"ARG","x":1963,"y":0},{"p":"ARG","x":1964,"y":0},{"p":"ARG","x":1965,"y":0},{"p":"ARG","x":1966,"y":0},{"p":"ARG","x":1967,"y":0},{"p":"ARG","x":1968,"y":0},{"p":"ARG","x":1969,"y":0},{"p":"ARG","x":1970,"y":0},{"p":"ARG","x":1971,"y":0.05},
{"p":"ARG","x":1972,"y":0.1},{"p":"ARG","x":1973,"y":0.2},{"p":"ARG","x":1974,"y":0.4},{"p":"ARG","x":1975,"y":0.4},{"p":"ARG","x":1976,"y":0.6},{"p":"ARG","x":1977,"y":1.1},{"p":"ARG","x":1978,"y":2},{"p":"ARG","x":1979,"y":3},{"p":"ARG","x":1980,"y":2.8},{"p":"ARG","x":1981,"y":3.1},
{"p":"ARG","x":1982,"y":3.4},{"p":"ARG","x":1983,"y":3.2},{"p":"ARG","x":1984,"y":5.6},{"p":"ARG","x":1985,"y":5.2},{"p":"ARG","x":1986,"y":5.7},{"p":"ARG","x":1987,"y":5.4},{"p":"ARG","x":1988,"y":7.9},{"p":"ARG","x":1989,"y":5.2},{"p":"ARG","x":1990,"y":8.6},{"p":"ARG","x":1991,"y":9},
{"p":"ARG","x":1992,"y":9},{"p":"ARG","x":1993,"y":8.8},{"p":"ARG","x":1994,"y":9.4},{"p":"ARG","x":1995,"y":9.7},{"p":"ARG","x":1996,"y":9.9},{"p":"ARG","x":1997,"y":8.8},{"p":"ARG","x":1998,"y":15},{"p":"ARG","x":1999,"y":16},{"p":"ARG","x":2000,"y":16.2},{"p":"ARG","x":2001,"y":21.5},
{"p":"ARG","x":2002,"y":24},{"p":"ARG","x":2003,"y":27.8},{"p":"ARG","x":2004,"y":25.3},{"p":"ARG","x":2005,"y":30.6},{"p":"ARG","x":2006,"y":32.4},{"p":"ARG","x":2007,"y":38},{"p":"ARG","x":2008,"y":37},{"p":"ARG","x":2009,"y":24.7},{"p":"ARG","x":2010,"y":42.2},{"p":"ARG","x":2011,"y":39.1},{"p":"ARG","x":2012,"y":32.1},
{"p":"C BRA","x":1962,"y":0},{"p":"C BRA","x":1963,"y":0},{"p":"C BRA","x":1964,"y":0},{"p":"C BRA","x":1965,"y":0},{"p":"C BRA","x":1966,"y":0},{"p":"C BRA","x":1967,"y":0},{"p":"C BRA","x":1968,"y":0},{"p":"C BRA","x":1969,"y":0},{"p":"C BRA","x":1970,"y":0},{"p":"C BRA","x":1971,"y":0},
{"p":"C BRA","x":1972,"y":0},{"p":"C BRA","x":1973,"y":0},{"p":"C BRA","x":1974,"y":0},{"p":"C BRA","x":1975,"y":0},{"p":"C BRA","x":1976,"y":0.1},{"p":"C BRA","x":1977,"y":0.2},{"p":"C BRA","x":1978,"y":0.3},{"p":"C BRA","x":1979,"y":0.5},{"p":"C BRA","x":1980,"y":0.8},{"p":"C BRA","x":1981,"y":1},
{"p":"C BRA","x":1982,"y":1.4},{"p":"C BRA","x":1983,"y":1.9},{"p":"C BRA","x":1984,"y":2.5},{"p":"C BRA","x":1985,"y":2.3},{"p":"C BRA","x":1986,"y":2.1},{"p":"C BRA","x":1987,"y":3.5},{"p":"C BRA","x":1988,"y":4},{"p":"C BRA","x":1989,"y":5.3},{"p":"C BRA","x":1990,"y":3.8},{"p":"C BRA","x":1991,"y":3.2},
{"p":"C BRA","x":1992,"y":4.9},{"p":"C BRA","x":1993,"y":6},{"p":"C BRA","x":1994,"y":6.6},{"p":"C BRA","x":1995,"y":5.9},{"p":"C BRA","x":1996,"y":5.6},{"p":"C BRA","x":1997,"y":7},{"p":"C BRA","x":1998,"y":8.4},{"p":"C BRA","x":1999,"y":8.1},{"p":"C BRA","x":2000,"y":9.1},{"p":"C BRA","x":2001,"y":10.5},
{"p":"C BRA","x":2002,"y":13.2},{"p":"C BRA","x":2003,"y":15.3},{"p":"C BRA","x":2004,"y":15.4},{"p":"C BRA","x":2005,"y":15.9},{"p":"C BRA","x":2006,"y":15.3},{"p":"C BRA","x":2007,"y":15},{"p":"C BRA","x":2008,"y":17.5},{"p":"C BRA","x":2009,"y":16.5},{"p":"C BRA","x":2010,"y":19.8},{"p":"C BRA","x":2011,"y":21.2},{"p":"C BRA","x":2012,"y":18.6},
{"p":"IND","x":1962,"y":0},{"p":"IND","x":1963,"y":0},{"p":"IND","x":1964,"y":0},{"p":"IND","x":1965,"y":0},{"p":"IND","x":1966,"y":0},{"p":"IND","x":1967,"y":0},{"p":"IND","x":1968,"y":0},{"p":"IND","x":1969,"y":0},{"p":"IND","x":1970,"y":0},{"p":"IND","x":1971,"y":0.02},
{"p":"IND","x":1972,"y":0.05},{"p":"IND","x":1973,"y":0.06},{"p":"IND","x":1974,"y":0.1},{"p":"IND","x":1975,"y":0.1},{"p":"IND","x":1976,"y":0.2},{"p":"IND","x":1977,"y":0.3},{"p":"IND","x":1978,"y":0.4},{"p":"IND","x":1979,"y":0.3},{"p":"IND","x":1980,"y":0.4},{"p":"IND","x":1981,"y":0.5},
{"p":"IND","x":1982,"y":0.5},{"p":"IND","x":1983,"y":0.6},{"p":"IND","x":1984,"y":0.9},{"p":"IND","x":1985,"y":1},{"p":"IND","x":1986,"y":0.9},{"p":"IND","x":1987,"y":0.9},{"p":"IND","x":1988,"y":1.5},{"p":"IND","x":1989,"y":1.8},{"p":"IND","x":1990,"y":2.6},{"p":"IND","x":1991,"y":2.3},
{"p":"IND","x":1992,"y":3.4},{"p":"IND","x":1993,"y":4.1},{"p":"IND","x":1994,"y":3.9},{"p":"IND","x":1995,"y":5.1},{"p":"IND","x":1996,"y":4.6},{"p":"IND","x":1997,"y":5.5},{"p":"IND","x":1998,"y":6.5},{"p":"IND","x":1999,"y":6.3},{"p":"IND","x":2000,"y":5.3},{"p":"IND","x":2001,"y":5.4},
{"p":"IND","x":2002,"y":4.5},{"p":"IND","x":2003,"y":7.8},{"p":"IND","x":2004,"y":6.9},{"p":"IND","x":2005,"y":7.4},{"p":"IND","x":2006,"y":8.2},{"p":"IND","x":2007,"y":9.8},{"p":"IND","x":2008,"y":9.4},{"p":"IND","x":2009,"y":10.2},{"p":"IND","x":2010,"y":12.7},{"p":"IND","x":2011,"y":12.3},{"p":"IND","x":2012,"y":14},
{"p":"NE CHN","x":1962,"y":2.5},{"p":"NE CHN","x":1963,"y":2.3},{"p":"NE CHN","x":1964,"y":2.6},{"p":"NE CHN","x":1965,"y":2.8},{"p":"NE CHN","x":1966,"y":2.7},{"p":"NE CHN","x":1967,"y":2.9},{"p":"NE CHN","x":1968,"y":3.2},{"p":"NE CHN","x":1969,"y":2.8},{"p":"NE CHN","x":1970,"y":3.1},{"p":"NE CHN","x":1971,"y":3.3},
{"p":"NE CHN","x":1972,"y":2.9},{"p":"NE CHN","x":1973,"y":3.2},{"p":"NE CHN","x":1974,"y":3},{"p":"NE CHN","x":1975,"y":3.2},{"p":"NE CHN","x":1976,"y":2.8},{"p":"NE CHN","x":1977,"y":2.6},{"p":"NE CHN","x":1978,"y":2.9},{"p":"NE CHN","x":1979,"y":3.2},{"p":"NE CHN","x":1980,"y":3.4},{"p":"NE CHN","x":1981,"y":3.5},
{"p":"NE CHN","x":1982,"y":3.6},{"p":"NE CHN","x":1983,"y":3.9},{"p":"NE CHN","x":1984,"y":4.2},{"p":"NE CHN","x":1985,"y":4.8},{"p":"NE CHN","x":1986,"y":5.2},{"p":"NE CHN","x":1987,"y":5.5},{"p":"NE CHN","x":1988,"y":5.7},{"p":"NE CHN","x":1989,"y":4.5},{"p":"NE CHN","x":1990,"y":4.8},{"p":"NE CHN","x":1991,"y":4.6},
{"p":"NE CHN","x":1992,"y":5.1},{"p":"NE CHN","x":1993,"y":6.8},{"p":"NE CHN","x":1994,"y":7.2},{"p":"NE CHN","x":1995,"y":6.6},{"p":"NE CHN","x":1996,"y":5.8},{"p":"NE CHN","x":1997,"y":6.4},{"p":"NE CHN","x":1998,"y":7.3},{"p":"NE CHN","x":1999,"y":6.2},{"p":"NE CHN","x":2000,"y":6.4},{"p":"NE CHN","x":2001,"y":7.1},
{"p":"NE CHN","x":2002,"y":7.4},{"p":"NE CHN","x":2003,"y":7.9},{"p":"NE CHN","x":2004,"y":8.6},{"p":"NE CHN","x":2005,"y":8.1},{"p":"NE CHN","x":2006,"y":7.5},{"p":"NE CHN","x":2007,"y":6.6},{"p":"NE CHN","x":2008,"y":6.8},{"p":"NE CHN","x":2009,"y":6.2},{"p":"NE CHN","x":2010,"y":5.4},{"p":"NE CHN","x":2011,"y":4.6},{"p":"NE CHN","x":2012,"y":4.2},
{"p":"E CHN","x":1962,"y":2.2},{"p":"E CHN","x":1963,"y":2.4},{"p":"E CHN","x":1964,"y":2.6},{"p":"E CHN","x":1965,"y":2.3},{"p":"E CHN","x":1966,"y":2.7},{"p":"E CHN","x":1967,"y":2.5},{"p":"E CHN","x":1968,"y":2.8},{"p":"E CHN","x":1969,"y":2.6},{"p":"E CHN","x":1970,"y":2.4},{"p":"E CHN","x":1971,"y":2.5},
{"p":"E CHN","x":1972,"y":2.3},{"p":"E CHN","x":1973,"y":2.7},{"p":"E CHN","x":1974,"y":2.5},{"p":"E CHN","x":1975,"y":2.8},{"p":"E CHN","x":1976,"y":2.6},{"p":"E CHN","x":1977,"y":2.4},{"p":"E CHN","x":1978,"y":2.9},{"p":"E CHN","x":1979,"y":2.7},{"p":"E CHN","x":1980,"y":3.8},{"p":"E CHN","x":1981,"y":3.2},
{"p":"E CHN","x":1982,"y":3.5},{"p":"E CHN","x":1983,"y":3.9},{"p":"E CHN","x":1984,"y":3.1},{"p":"E CHN","x":1985,"y":3.4},{"p":"E CHN","x":1986,"y":3.3},{"p":"E CHN","x":1987,"y":2.8},{"p":"E CHN","x":1988,"y":2.5},{"p":"E CHN","x":1989,"y":3.1},{"p":"E CHN","x":1990,"y":3.5},{"p":"E CHN","x":1991,"y":4.5},
{"p":"E CHN","x":1992,"y":4.3},{"p":"E CHN","x":1993,"y":4.6},{"p":"E CHN","x":1994,"y":4.4},{"p":"E CHN","x":1995,"y":4},{"p":"E CHN","x":1996,"y":3.9},{"p":"E CHN","x":1997,"y":4.4},{"p":"E CHN","x":1998,"y":3.5},{"p":"E CHN","x":1999,"y":3.6},{"p":"E CHN","x":2000,"y":3.2},{"p":"E CHN","x":2001,"y":3.4},
{"p":"E CHN","x":2002,"y":3.7},{"p":"E CHN","x":2003,"y":3.8},{"p":"E CHN","x":2004,"y":3.5},{"p":"E CHN","x":2005,"y":3.9},{"p":"E CHN","x":2006,"y":3.4},{"p":"E CHN","x":2007,"y":3.6},{"p":"E CHN","x":2008,"y":3.7},{"p":"E CHN","x":2009,"y":3.3},{"p":"E CHN","x":2010,"y":3.5},{"p":"E CHN","x":2011,"y":3.8},{"p":"E CHN","x":2012,"y":3.6},
{"p":"USA","x":1962,"f":13,"lo":9,"hi":17},{"p":"USA","x":1967,"f":19.5,"lo":17.5,"hi":21.5},{"p":"USA","x":1972,"f":28.5,"lo":26.7,"hi":30.3},{"p":"USA","x":1977,"f":33.5,"lo":31.8,"hi":35.2},{"p":"USA","x":1982,"f":38,"lo":36.3,"hi":39.7},{"p":"USA","x":1987,"f":40.5,"lo":38.8,"hi":42.2},{"p":"USA","x":1992,"f":46,"lo":44.3,"hi":47.7},{"p":"USA","x":1997,"f":53,"lo":51.3,"hi":54.7},{"p":"USA","x":2002,"f":57.5,"lo":55.7,"hi":59.3},{"p":"USA","x":2007,"f":62.5,"lo":60.5,"hi":64.5},{"p":"USA","x":2012,"f":66.5,"lo":62.5,"hi":70.5},
{"p":"S BRA","x":1962,"f":-1.8,"lo":-3.5,"hi":-0.1},{"p":"S BRA","x":1967,"f":1.5,"lo":0.3,"hi":2.7},{"p":"S BRA","x":1972,"f":5,"lo":4,"hi":6},{"p":"S BRA","x":1977,"f":8.5,"lo":7.5,"hi":9.5},{"p":"S BRA","x":1982,"f":11,"lo":10,"hi":12},{"p":"S BRA","x":1987,"f":12,"lo":11,"hi":13},{"p":"S BRA","x":1992,"f":12.8,"lo":11.8,"hi":13.8},{"p":"S BRA","x":1997,"f":14.5,"lo":13.5,"hi":15.5},{"p":"S BRA","x":2002,"f":19,"lo":18,"hi":20},{"p":"S BRA","x":2007,"f":26,"lo":24.8,"hi":27.2},{"p":"S BRA","x":2012,"f":35.5,"lo":33,"hi":38},
{"p":"ARG","x":1962,"f":0.2,"lo":-2.2,"hi":2.6},{"p":"ARG","x":1967,"f":-0.3,"lo":-1.8,"hi":1.2},{"p":"ARG","x":1972,"f":0,"lo":-1.3,"hi":1.3},{"p":"ARG","x":1977,"f":1.8,"lo":0.5,"hi":3.1},{"p":"ARG","x":1982,"f":4.2,"lo":2.9,"hi":5.5},{"p":"ARG","x":1987,"f":7.3,"lo":6,"hi":8.6},{"p":"ARG","x":1992,"f":9.6,"lo":8.3,"hi":10.9},{"p":"ARG","x":1997,"f":14.3,"lo":13,"hi":15.6},{"p":"ARG","x":2002,"f":22.5,"lo":21.2,"hi":23.8},{"p":"ARG","x":2007,"f":31.5,"lo":30,"hi":33},{"p":"ARG","x":2012,"f":39.5,"lo":37.3,"hi":41.7},
{"p":"C BRA","x":1962,"f":0.2,"lo":-0.6,"hi":1},{"p":"C BRA","x":1967,"f":-0.1,"lo":-0.6,"hi":0.4},{"p":"C BRA","x":1972,"f":-0.1,"lo":-0.6,"hi":0.4},{"p":"C BRA","x":1977,"f":0.4,"lo":-0.1,"hi":0.9},{"p":"C BRA","x":1982,"f":1.4,"lo":0.9,"hi":1.9},{"p":"C BRA","x":1987,"f":3,"lo":2.5,"hi":3.5},{"p":"C BRA","x":1992,"f":5.3,"lo":4.8,"hi":5.8},{"p":"C BRA","x":1997,"f":8.2,"lo":7.7,"hi":8.7},{"p":"C BRA","x":2002,"f":12.6,"lo":12,"hi":13.2},{"p":"C BRA","x":2007,"f":16.8,"lo":16.1,"hi":17.5},{"p":"C BRA","x":2012,"f":20.6,"lo":19.6,"hi":21.6},
{"p":"IND","x":1962,"f":0,"lo":-0.4,"hi":0.4},{"p":"IND","x":1967,"f":0,"lo":-0.3,"hi":0.3},{"p":"IND","x":1972,"f":0.1,"lo":-0.2,"hi":0.4},{"p":"IND","x":1977,"f":0.4,"lo":0.1,"hi":0.7},{"p":"IND","x":1982,"f":1,"lo":0.7,"hi":1.3},{"p":"IND","x":1987,"f":2,"lo":1.7,"hi":2.3},{"p":"IND","x":1992,"f":3.3,"lo":3,"hi":3.6},{"p":"IND","x":1997,"f":4.7,"lo":4.4,"hi":5},{"p":"IND","x":2002,"f":6.3,"lo":5.9,"hi":6.7},{"p":"IND","x":2007,"f":8.8,"lo":8.4,"hi":9.2},{"p":"IND","x":2012,"f":13,"lo":12.2,"hi":13.8},
{"p":"NE CHN","x":1962,"f":2.6,"lo":2,"hi":3.2},{"p":"NE CHN","x":1967,"f":2.8,"lo":2.4,"hi":3.2},{"p":"NE CHN","x":1972,"f":3,"lo":2.6,"hi":3.4},{"p":"NE CHN","x":1977,"f":3.1,"lo":2.7,"hi":3.5},{"p":"NE CHN","x":1982,"f":3.6,"lo":3.2,"hi":4},{"p":"NE CHN","x":1987,"f":4.6,"lo":4.2,"hi":5},{"p":"NE CHN","x":1992,"f":5.5,"lo":5.1,"hi":5.9},{"p":"NE CHN","x":1997,"f":6.2,"lo":5.8,"hi":6.6},{"p":"NE CHN","x":2002,"f":6.7,"lo":6.3,"hi":7.1},{"p":"NE CHN","x":2007,"f":6.6,"lo":6.2,"hi":7},{"p":"NE CHN","x":2012,"f":4.9,"lo":4.2,"hi":5.6},
{"p":"E CHN","x":1962,"f":2.3,"lo":1.9,"hi":2.7},{"p":"E CHN","x":1967,"f":2.5,"lo":2.2,"hi":2.8},{"p":"E CHN","x":1972,"f":2.6,"lo":2.3,"hi":2.9},{"p":"E CHN","x":1977,"f":2.8,"lo":2.5,"hi":3.1},{"p":"E CHN","x":1982,"f":3.1,"lo":2.8,"hi":3.4},{"p":"E CHN","x":1987,"f":3.3,"lo":3,"hi":3.6},{"p":"E CHN","x":1992,"f":3.7,"lo":3.4,"hi":4},{"p":"E CHN","x":1997,"f":3.9,"lo":3.6,"hi":4.2},{"p":"E CHN","x":2002,"f":3.8,"lo":3.5,"hi":4.1},{"p":"E CHN","x":2007,"f":3.6,"lo":3.3,"hi":3.9},{"p":"E CHN","x":2012,"f":3.6,"lo":3.1,"hi":4.1}
],
"wheat":[
{"p":"E EU & RUS","x":1962,"y":41.6},{"p":"E EU & RUS","x":1963,"y":33.5},{"p":"E EU & RUS","x":1964,"y":45.5},{"p":"E EU & RUS","x":1965,"y":42.4},{"p":"E EU & RUS","x":1966,"y":60.6},{"p":"E EU & RUS","x":1967,"y":52.3},{"p":"E EU & RUS","x":1968,"y":59},{"p":"E EU & RUS","x":1969,"y":52.8},{"p":"E EU & RUS","x":1970,"y":60},{"p":"E EU & RUS","x":1971,"y":64.2},
{"p":"E EU & RUS","x":1972,"y":58.8},{"p":"E EU & RUS","x":1973,"y":70.5},{"p":"E EU & RUS","x":1974,"y":60},{"p":"E EU & RUS","x":1975,"y":49.2},{"p":"E EU & RUS","x":1976,"y":67.7},{"p":"E EU & RUS","x":1977,"y":65},{"p":"E EU & RUS","x":1978,"y":78.8},{"p":"E EU & RUS","x":1979,"y":58.5},{"p":"E EU & RUS","x":1980,"y":68.2},{"p":"E EU & RUS","x":1981,"y":58},
{"p":"E EU & RUS","x":1982,"y":62.5},{"p":"E EU & RUS","x":1983,"y":59},{"p":"E EU & RUS","x":1984,"y":60.5},{"p":"E EU & RUS","x":1985,"y":66.8},{"p":"E EU & RUS","x":1986,"y":63.5},{"p":"E EU & RUS","x":1987,"y":64},{"p":"E EU & RUS","x":1988,"y":71.5},{"p":"E EU & RUS","x":1989,"y":78.4},{"p":"E EU & RUS","x":1990,"y":83.4},{"p":"E EU & RUS","x":1991,"y":62.5},
{"p":"E EU & RUS","x":1992,"y":66.4},{"p":"E EU & RUS","x":1993,"y":56.6},{"p":"E EU & RUS","x":1994,"y":60},{"p":"E EU & RUS","x":1995,"y":51.1},{"p":"E EU & RUS","x":1996,"y":68.2},{"p":"E EU & RUS","x":1997,"y":55.2},{"p":"E EU & RUS","x":1998,"y":50.7},{"p":"E EU & RUS","x":1999,"y":50.1},{"p":"E EU & RUS","x":2000,"y":74.7},{"p":"E EU & RUS","x":2001,"y":70},
{"p":"E EU & RUS","x":2002,"y":37.1},{"p":"E EU & RUS","x":2003,"y":71.8},{"p":"E EU & RUS","x":2004,"y":70},{"p":"E EU & RUS","x":2005,"y":58.1},{"p":"E EU & RUS","x":2006,"y":57.5},{"p":"E EU & RUS","x":2007,"y":86},{"p":"E EU & RUS","x":2008,"y":75.7},{"p":"E EU & RUS","x":2009,"y":61.6},{"p":"E EU & RUS","x":2010,"y":77},{"p":"E EU & RUS","x":2011,"y":57.5},{"p":"E EU & RUS","x":2012,"y":64.5},
{"p":"C EU","x":1962,"y":18.7},{"p":"C EU","x":1963,"y":25},{"p":"C EU","x":1964,"y":20.8},{"p":"C EU","x":1965,"y":25.5},{"p":"C EU","x":1966,"y":22},{"p":"C EU","x":1967,"y":26.5},{"p":"C EU","x":1968,"y":27.5},{"p":"C EU","x":1969,"y":26.2},{"p":"C EU","x":1970,"y":25.8},{"p":"C EU","x":1971,"y":30.5},
{"p":"C EU","x":1972,"y":31},{"p":"C EU","x":1973,"y":33.5},{"p":"C EU","x":1974,"y":33},{"p":"C EU","x":1975,"y":30.2},{"p":"C EU","x":1976,"y":30.8},{"p":"C EU","x":1977,"y":33},{"p":"C EU","x":1978,"y":38},{"p":"C EU","x":1979,"y":37},{"p":"C EU","x":1980,"y":43.8},{"p":"C EU","x":1981,"y":43.5},
{"p":"C EU","x":1982,"y":47},{"p":"C EU","x":1983,"y":48},{"p":"C EU","x":1984,"y":61.5},{"p":"C EU","x":1985,"y":54.3},{"p":"C EU","x":1986,"y":54.3},{"p":"C EU","x":1987,"y":52.2},{"p":"C EU","x":1988,"y":56},{"p":"C EU","x":1989,"y":59.5},{"p":"C EU","x":1990,"y":64.5},{"p":"C EU","x":1991,"y":61.5},
{"p":"C EU","x":1992,"y":57},{"p":"C EU","x":1993,"y":59.5},{"p":"C EU","x":1994,"y":59},{"p":"C EU","x":1995,"y":61.5},{"p":"C EU","x":1996,"y":69.5},{"p":"C EU","x":1997,"y":67.5},{"p":"C EU","x":1998,"y":73.5},{"p":"C EU","x":1999,"y":69.5},{"p":"C EU","x":2000,"y":73.5},{"p":"C EU","x":2001,"y":73},
{"p":"C EU","x":2002,"y":64.5},{"p":"C EU","x":2003,"y":62.2},{"p":"C EU","x":2004,"y":78.5},{"p":"C EU","x":2005,"y":73.5},{"p":"C EU","x":2006,"y":68.7},{"p":"C EU","x":2007,"y":66.2},{"p":"C EU","x":2008,"y":81},{"p":"C EU","x":2009,"y":74},{"p":"C EU","x":2010,"y":73.5},{"p":"C EU","x":2011,"y":70.3},{"p":"C EU","x":2012,"y":71.8},
{"p":"IND & PAK","x":1962,"y":11},{"p":"IND & PAK","x":1963,"y":11.5},{"p":"IND & PAK","x":1964,"y":10.5},{"p":"IND & PAK","x":1965,"y":12},{"p":"IND & PAK","x":1966,"y":10.5},{"p":"IND & PAK","x":1967,"y":11.5},{"p":"IND & PAK","x":1968,"y":12.5},{"p":"IND & PAK","x":1969,"y":17.5},{"p":"IND & PAK","x":1970,"y":21},{"p":"IND & PAK","x":1971,"y":23},
{"p":"IND & PAK","x":1972,"y":25.5},{"p":"IND & PAK","x":1973,"y":28.5},{"p":"IND & PAK","x":1974,"y":28.8},{"p":"IND & PAK","x":1975,"y":26.5},{"p":"IND & PAK","x":1976,"y":28.5},{"p":"IND & PAK","x":1977,"y":30.5},{"p":"IND & PAK","x":1978,"y":33},{"p":"IND & PAK","x":1979,"y":37},{"p":"IND & PAK","x":1980,"y":40.5},{"p":"IND & PAK","x":1981,"y":42},
{"p":"IND & PAK","x":1982,"y":43.5},{"p":"IND & PAK","x":1983,"y":49},{"p":"IND & PAK","x":1984,"y":49.5},{"p":"IND & PAK","x":1985,"y":49.5},{"p":"IND & PAK","x":1986,"y":51.5},{"p":"IND & PAK","x":1987,"y":49},{"p":"IND & PAK","x":1988,"y":50.5},{"p":"IND & PAK","x":1989,"y":55},{"p":"IND & PAK","x":1990,"y":60.5},{"p":"IND & PAK","x":1991,"y":60.5},
{"p":"IND & PAK","x":1992,"y":57.5},{"p":"IND & PAK","x":1993,"y":62.5},{"p":"IND & PAK","x":1994,"y":63.5},{"p":"IND & PAK","x":1995,"y":66.5},{"p":"IND & PAK","x":1996,"y":68},{"p":"IND & PAK","x":1997,"y":70},{"p":"IND & PAK","x":1998,"y":68.5},{"p":"IND & PAK","x":1999,"y":73.5},{"p":"IND & PAK","x":2000,"y":81},{"p":"IND & PAK","x":2001,"y":75},
{"p":"IND & PAK","x":2002,"y":75.5},{"p":"IND & PAK","x":2003,"y":73},{"p":"IND & PAK","x":2004,"y":75.5},{"p":"IND & PAK","x":2005,"y":74.5},{"p":"IND & PAK","x":2006,"y":73.5},{"p":"IND & PAK","x":2007,"y":79},{"p":"IND & PAK","x":2008,"y":82},{"p":"IND & PAK","x":2009,"y":84.5},{"p":"IND & PAK","x":2010,"y":87},{"p":"IND & PAK","x":2011,"y":92},{"p":"IND & PAK","x":2012,"y":96.5},
{"p":"CHN","x":1962,"y":8},{"p":"CHN","x":1963,"y":9.5},{"p":"CHN","x":1964,"y":11},{"p":"CHN","x":1965,"y":12.5},{"p":"CHN","x":1966,"y":14},{"p":"CHN","x":1967,"y":15},{"p":"CHN","x":1968,"y":14.5},{"p":"CHN","x":1969,"y":15.5},{"p":"CHN","x":1970,"y":16.5},{"p":"CHN","x":1971,"y":18.5},
{"p":"CHN","x":1972,"y":19.5},{"p":"CHN","x":1973,"y":21.5},{"p":"CHN","x":1974,"y":22.5},{"p":"CHN","x":1975,"y":25},{"p":"CHN","x":1976,"y":23.5},{"p":"CHN","x":1977,"y":29.5},{"p":"CHN","x":1978,"y":28},{"p":"CHN","x":1979,"y":33.5},{"p":"CHN","x":1980,"y":35},{"p":"CHN","x":1981,"y":34},
{"p":"CHN","x":1982,"y":43.5},{"p":"CHN","x":1983,"y":48},{"p":"CHN","x":1984,"y":51},{"p":"CHN","x":1985,"y":47.5},{"p":"CHN","x":1986,"y":52},{"p":"CHN","x":1987,"y":53.5},{"p":"CHN","x":1988,"y":55},{"p":"CHN","x":1989,"y":58},{"p":"CHN","x":1990,"y":59},{"p":"CHN","x":1991,"y":56.5},
{"p":"CHN","x":1992,"y":59.5},{"p":"CHN","x":1993,"y":61},{"p":"CHN","x":1994,"y":59},{"p":"CHN","x":1995,"y":62},{"p":"CHN","x":1996,"y":64.5},{"p":"CHN","x":1997,"y":75.5},{"p":"CHN","x":1998,"y":71.5},{"p":"CHN","x":1999,"y":73.5},{"p":"CHN","x":2000,"y":64},{"p":"CHN","x":2001,"y":60.5},
{"p":"CHN","x":2002,"y":59},{"p":"CHN","x":2003,"y":55},{"p":"CHN","x":2004,"y":54.5},{"p":"CHN","x":2005,"y":60},{"p":"CHN","x":2006,"y":64},{"p":"CHN","x":2007,"y":66},{"p":"CHN","x":2008,"y":81},{"p":"CHN","x":2009,"y":79},{"p":"CHN","x":2010,"y":76},{"p":"CHN","x":2011,"y":73},{"p":"CHN","x":2012,"y":77},
{"p":"N USA & CAN","x":1962,"y":10},{"p":"N USA & CAN","x":1963,"y":19.7},{"p":"N USA & CAN","x":1964,"y":22.3},{"p":"N USA & CAN","x":1965,"y":22.5},{"p":"N USA & CAN","x":1966,"y":25.5},{"p":"N USA & CAN","x":1967,"y":25},{"p":"N USA & CAN","x":1968,"y":21},{"p":"N USA & CAN","x":1969,"y":14.5},{"p":"N USA & CAN","x":1970,"y":22},{"p":"N USA & CAN","x":1971,"y":27.5},
{"p":"N USA & CAN","x":1972,"y":22.5},{"p":"N USA & CAN","x":1973,"y":24},{"p":"N USA & CAN","x":1974,"y":27},{"p":"N USA & CAN","x":1975,"y":29},{"p":"N USA & CAN","x":1976,"y":33.6},{"p":"N USA & CAN","x":1977,"y":31.5},{"p":"N USA & CAN","x":1978,"y":30},{"p":"N USA & CAN","x":1979,"y":26.5},{"p":"N USA & CAN","x":1980,"y":25.5},{"p":"N USA & CAN","x":1981,"y":36.8},
{"p":"N USA & CAN","x":1982,"y":39.1},{"p":"N USA & CAN","x":1983,"y":30.5},{"p":"N USA & CAN","x":1984,"y":34},{"p":"N USA & CAN","x":1985,"y":40.4},{"p":"N USA & CAN","x":1986,"y":17.7},{"p":"N USA & CAN","x":1987,"y":33.5},{"p":"N USA & CAN","x":1988,"y":44.8},{"p":"N USA & CAN","x":1989,"y":40.4},{"p":"N USA & CAN","x":1990,"y":45.4},{"p":"N USA & CAN","x":1991,"y":39.5},
{"p":"N USA & CAN","x":1992,"y":34.5},{"p":"N USA & CAN","x":1993,"y":44.2},{"p":"N USA & CAN","x":1994,"y":35.5},{"p":"N USA & CAN","x":1995,"y":35.2},{"p":"N USA & CAN","x":1996,"y":36.3},{"p":"N USA & CAN","x":1997,"y":29.2},{"p":"N USA & CAN","x":1998,"y":22.9},{"p":"N USA & CAN","x":1999,"y":36.3},{"p":"N USA & CAN","x":2000,"y":33.3},{"p":"N USA & CAN","x":2001,"y":32},
{"p":"N USA & CAN","x":2002,"y":38.9},{"p":"N USA & CAN","x":2003,"y":35.5},{"p":"N USA & CAN","x":2004,"y":30},{"p":"N USA & CAN","x":2005,"y":35.7},{"p":"N USA & CAN","x":2006,"y":33.4},{"p":"N USA & CAN","x":2007,"y":31.5},{"p":"N USA & CAN","x":2008,"y":36},{"p":"N USA & CAN","x":2009,"y":34.5},{"p":"N USA & CAN","x":2010,"y":33},{"p":"N USA & CAN","x":2011,"y":32},{"p":"N USA & CAN","x":2012,"y":35.5},
{"p":"TUR","x":1962,"y":8},{"p":"TUR","x":1963,"y":9.5},{"p":"TUR","x":1964,"y":10},{"p":"TUR","x":1965,"y":9.2},{"p":"TUR","x":1966,"y":10.5},{"p":"TUR","x":1967,"y":11},{"p":"TUR","x":1968,"y":10.2},{"p":"TUR","x":1969,"y":11},{"p":"TUR","x":1970,"y":10},{"p":"TUR","x":1971,"y":13},
{"p":"TUR","x":1972,"y":14},{"p":"TUR","x":1973,"y":12.5},{"p":"TUR","x":1974,"y":12},{"p":"TUR","x":1975,"y":16},{"p":"TUR","x":1976,"y":17.5},{"p":"TUR","x":1977,"y":17.6},{"p":"TUR","x":1978,"y":17.8},{"p":"TUR","x":1979,"y":18},{"p":"TUR","x":1980,"y":17.5},{"p":"TUR","x":1981,"y":17.3},
{"p":"TUR","x":1982,"y":17.5},{"p":"TUR","x":1983,"y":16.6},{"p":"TUR","x":1984,"y":17.2},{"p":"TUR","x":1985,"y":17},{"p":"TUR","x":1986,"y":20},{"p":"TUR","x":1987,"y":20.5},{"p":"TUR","x":1988,"y":21.5},{"p":"TUR","x":1989,"y":17.5},{"p":"TUR","x":1990,"y":20.5},{"p":"TUR","x":1991,"y":21.5},
{"p":"TUR","x":1992,"y":20.5},{"p":"TUR","x":1993,"y":22},{"p":"TUR","x":1994,"y":19},{"p":"TUR","x":1995,"y":19.5},{"p":"TUR","x":1996,"y":21},{"p":"TUR","x":1997,"y":21},{"p":"TUR","x":1998,"y":22.5},{"p":"TUR","x":1999,"y":20.5},{"p":"TUR","x":2000,"y":22.5},{"p":"TUR","x":2001,"y":20.5},
{"p":"TUR","x":2002,"y":21.5},{"p":"TUR","x":2003,"y":21},{"p":"TUR","x":2004,"y":24.5},{"p":"TUR","x":2005,"y":23.5},{"p":"TUR","x":2006,"y":22.5},{"p":"TUR","x":2007,"y":19.2},{"p":"TUR","x":2008,"y":20},{"p":"TUR","x":2009,"y":23.5},{"p":"TUR","x":2010,"y":22},{"p":"TUR","x":2011,"y":24.1},{"p":"TUR","x":2012,"y":22.5},
{"p":"CS USA","x":1962,"y":12.9},{"p":"CS USA","x":1963,"y":8},{"p":"CS USA","x":1964,"y":8.5},{"p":"CS USA","x":1965,"y":9.9},{"p":"CS USA","x":1966,"y":10},{"p":"CS USA","x":1967,"y":13.7},{"p":"CS USA","x":1968,"y":12.5},{"p":"CS USA","x":1969,"y":14.7},{"p":"CS USA","x":1970,"y":14},{"p":"CS USA","x":1971,"y":18.4},
{"p":"CS USA","x":1972,"y":14.3},{"p":"CS USA","x":1973,"y":17.5},{"p":"CS USA","x":1974,"y":16},{"p":"CS USA","x":1975,"y":20.3},{"p":"CS USA","x":1976,"y":20.6},{"p":"CS USA","x":1977,"y":21.7},{"p":"CS USA","x":1978,"y":17.5},{"p":"CS USA","x":1979,"y":22},{"p":"CS USA","x":1980,"y":21.4},{"p":"CS USA","x":1981,"y":21.7},
{"p":"CS USA","x":1982,"y":17.3},{"p":"CS USA","x":1983,"y":16.6},{"p":"CS USA","x":1984,"y":20.8},{"p":"CS USA","x":1985,"y":11.4},{"p":"CS USA","x":1986,"y":21.7},{"p":"CS USA","x":1987,"y":16.9},{"p":"CS USA","x":1988,"y":20.3},{"p":"CS USA","x":1989,"y":14.4},{"p":"CS USA","x":1990,"y":12.1},{"p":"CS USA","x":1991,"y":23.4},
{"p":"CS USA","x":1992,"y":20.3},{"p":"CS USA","x":1993,"y":15.2},{"p":"CS USA","x":1994,"y":11},{"p":"CS USA","x":1995,"y":20.3},{"p":"CS USA","x":1996,"y":14.9},{"p":"CS USA","x":1997,"y":11.2},{"p":"CS USA","x":1998,"y":16},{"p":"CS USA","x":1999,"y":15},{"p":"CS USA","x":2000,"y":18},{"p":"CS USA","x":2001,"y":16.2},
{"p":"CS USA","x":2002,"y":16.6},{"p":"CS USA","x":2003,"y":17.2},{"p":"CS USA","x":2004,"y":14},{"p":"CS USA","x":2005,"y":17.5},{"p":"CS USA","x":2006,"y":16},{"p":"CS USA","x":2007,"y":15},{"p":"CS USA","x":2008,"y":18},{"p":"CS USA","x":2009,"y":16.8},{"p":"CS USA","x":2010,"y":15.5},{"p":"CS USA","x":2011,"y":17.8},{"p":"CS USA","x":2012,"y":16.5},
{"p":"ARG","x":1962,"y":4.8},{"p":"ARG","x":1963,"y":5.5},{"p":"ARG","x":1964,"y":7},{"p":"ARG","x":1965,"y":8.9},{"p":"ARG","x":1966,"y":6.5},{"p":"ARG","x":1967,"y":6},{"p":"ARG","x":1968,"y":5.8},{"p":"ARG","x":1969,"y":6.2},{"p":"ARG","x":1970,"y":4.4},{"p":"ARG","x":1971,"y":5},
{"p":"ARG","x":1972,"y":5.2},{"p":"ARG","x":1973,"y":7.2},{"p":"ARG","x":1974,"y":6},{"p":"ARG","x":1975,"y":5.5},{"p":"ARG","x":1976,"y":8.6},{"p":"ARG","x":1977,"y":4.4},{"p":"ARG","x":1978,"y":7.6},{"p":"ARG","x":1979,"y":8.1},{"p":"ARG","x":1980,"y":13.3},{"p":"ARG","x":1981,"y":7.8},
{"p":"ARG","x":1982,"y":8.3},{"p":"ARG","x":1983,"y":10.9},{"p":"ARG","x":1984,"y":11.2},{"p":"ARG","x":1985,"y":12.8},{"p":"ARG","x":1986,"y":8.4},{"p":"ARG","x":1987,"y":8.5},{"p":"ARG","x":1988,"y":8.9},{"p":"ARG","x":1989,"y":10},{"p":"ARG","x":1990,"y":10.7},{"p":"ARG","x":1991,"y":9.5},
{"p":"ARG","x":1992,"y":9.6},{"p":"ARG","x":1993,"y":10.5},{"p":"ARG","x":1994,"y":9.8},{"p":"ARG","x":1995,"y":9.1},{"p":"ARG","x":1996,"y":9.4},{"p":"ARG","x":1997,"y":13.8},{"p":"ARG","x":1998,"y":12.2},{"p":"ARG","x":1999,"y":12.6},{"p":"ARG","x":2000,"y":11.8},{"p":"ARG","x":2001,"y":11.5},
{"p":"ARG","x":2002,"y":9.5},{"p":"ARG","x":2003,"y":11.6},{"p":"ARG","x":2004,"y":12.3},{"p":"ARG","x":2005,"y":10.8},{"p":"ARG","x":2006,"y":12.8},{"p":"ARG","x":2007,"y":13.7},{"p":"ARG","x":2008,"y":12.5},{"p":"ARG","x":2009,"y":7.5},{"p":"ARG","x":2010,"y":9.5},{"p":"ARG","x":2011,"y":11.7},{"p":"ARG","x":2012,"y":6.1},
{"p":"SE AUS","x":1962,"y":3.5},{"p":"SE AUS","x":1963,"y":4.2},{"p":"SE AUS","x":1964,"y":3.8},{"p":"SE AUS","x":1965,"y":4.5},{"p":"SE AUS","x":1966,"y":3.2},{"p":"SE AUS","x":1967,"y":5},{"p":"SE AUS","x":1968,"y":4.5},{"p":"SE AUS","x":1969,"y":4.8},{"p":"SE AUS","x":1970,"y":3.8},{"p":"SE AUS","x":1971,"y":4.1},
{"p":"SE AUS","x":1972,"y":3.5},{"p":"SE AUS","x":1973,"y":5},{"p":"SE AUS","x":1974,"y":6.5},{"p":"SE AUS","x":1975,"y":4.8},{"p":"SE AUS","x":1976,"y":5.3},{"p":"SE AUS","x":1977,"y":4.2},{"p":"SE AUS","x":1978,"y":7},{"p":"SE AUS","x":1979,"y":6.1},{"p":"SE AUS","x":1980,"y":4.4},{"p":"SE AUS","x":1981,"y":5.5},
{"p":"SE AUS","x":1982,"y":3.2},{"p":"SE AUS","x":1983,"y":7.4},{"p":"SE AUS","x":1984,"y":6.5},{"p":"SE AUS","x":1985,"y":5.6},{"p":"SE AUS","x":1986,"y":6},{"p":"SE AUS","x":1987,"y":4.3},{"p":"SE AUS","x":1988,"y":5.2},{"p":"SE AUS","x":1989,"y":6.4},{"p":"SE AUS","x":1990,"y":5.5},{"p":"SE AUS","x":1991,"y":5},
{"p":"SE AUS","x":1992,"y":6.8},{"p":"SE AUS","x":1993,"y":5.9},{"p":"SE AUS","x":1994,"y":1.2},{"p":"SE AUS","x":1995,"y":7.1},{"p":"SE AUS","x":1996,"y":8},{"p":"SE AUS","x":1997,"y":6.2},{"p":"SE AUS","x":1998,"y":8.5},{"p":"SE AUS","x":1999,"y":7.3},{"p":"SE AUS","x":2000,"y":6.9},{"p":"SE AUS","x":2001,"y":8.5},
{"p":"SE AUS","x":2002,"y":4.5},{"p":"SE AUS","x":2003,"y":14},{"p":"SE AUS","x":2004,"y":8.4},{"p":"SE AUS","x":2005,"y":9.5},{"p":"SE AUS","x":2006,"y":3.8},{"p":"SE AUS","x":2007,"y":4.1},{"p":"SE AUS","x":2008,"y":8},{"p":"SE AUS","x":2009,"y":8.5},{"p":"SE AUS","x":2010,"y":11.4},{"p":"SE AUS","x":2011,"y":12.4},{"p":"SE AUS","x":2012,"y":10.5},
{"p":"EGY","x":1962,"y":1.5},{"p":"EGY","x":1963,"y":1.4},{"p":"EGY","x":1964,"y":1.5},{"p":"EGY","x":1965,"y":1.3},{"p":"EGY","x":1966,"y":1.3},{"p":"EGY","x":1967,"y":1.3},{"p":"EGY","x":1968,"y":1.5},{"p":"EGY","x":1969,"y":1.3},{"p":"EGY","x":1970,"y":1.5},{"p":"EGY","x":1971,"y":1.7},
{"p":"EGY","x":1972,"y":1.6},{"p":"EGY","x":1973,"y":1.8},{"p":"EGY","x":1974,"y":1.9},{"p":"EGY","x":1975,"y":2},{"p":"EGY","x":1976,"y":2},{"p":"EGY","x":1977,"y":1.7},{"p":"EGY","x":1978,"y":1.9},{"p":"EGY","x":1979,"y":1.9},{"p":"EGY","x":1980,"y":1.8},{"p":"EGY","x":1981,"y":1.9},
{"p":"EGY","x":1982,"y":2},{"p":"EGY","x":1983,"y":2},{"p":"EGY","x":1984,"y":1.8},{"p":"EGY","x":1985,"y":1.9},{"p":"EGY","x":1986,"y":1.9},{"p":"EGY","x":1987,"y":2.7},{"p":"EGY","x":1988,"y":2.8},{"p":"EGY","x":1989,"y":3.2},{"p":"EGY","x":1990,"y":4.3},{"p":"EGY","x":1991,"y":4.5},
{"p":"EGY","x":1992,"y":4.6},{"p":"EGY","x":1993,"y":4.8},{"p":"EGY","x":1994,"y":4.4},{"p":"EGY","x":1995,"y":5.7},{"p":"EGY","x":1996,"y":5.7},{"p":"EGY","x":1997,"y":5.8},{"p":"EGY","x":1998,"y":6.1},{"p":"EGY","x":1999,"y":6.3},{"p":"EGY","x":2000,"y":6.6},{"p":"EGY","x":2001,"y":6.3},
{"p":"EGY","x":2002,"y":6.6},{"p":"EGY","x":2003,"y":6.8},{"p":"EGY","x":2004,"y":7.2},{"p":"EGY","x":2005,"y":8.1},{"p":"EGY","x":2006,"y":8.3},{"p":"EGY","x":2007,"y":7.4},{"p":"EGY","x":2008,"y":8},{"p":"EGY","x":2009,"y":8.5},{"p":"EGY","x":2010,"y":7.2},{"p":"EGY","x":2011,"y":8.4},{"p":"EGY","x":2012,"y":8.8},
{"p":"E EU & RUS","x":1962,"f":43.5,"lo":36,"hi":51},{"p":"E EU & RUS","x":1967,"f":52.5,"lo":48,"hi":57},{"p":"E EU & RUS","x":1972,"f":60,"lo":56.5,"hi":63.5},{"p":"E EU & RUS","x":1977,"f":63.8,"lo":60.5,"hi":67.1},{"p":"E EU & RUS","x":1982,"f":65.2,"lo":62,"hi":68.4},{"p":"E EU & RUS","x":1987,"f":65.7,"lo":62.5,"hi":68.9},{"p":"E EU & RUS","x":1992,"f":64.2,"lo":61,"hi":67.4},{"p":"E EU & RUS","x":1997,"f":62.5,"lo":59,"hi":66},{"p":"E EU & RUS","x":2002,"f":63.2,"lo":59.5,"hi":66.9},{"p":"E EU & RUS","x":2007,"f":65.2,"lo":61,"hi":69.4},{"p":"E EU & RUS","x":2012,"f":67.5,"lo":60,"hi":75},
{"p":"C EU","x":1962,"f":20.8,"lo":18.5,"hi":23.1},{"p":"C EU","x":1967,"f":26,"lo":24.3,"hi":27.7},{"p":"C EU","x":1972,"f":31.5,"lo":29.8,"hi":33.2},{"p":"C EU","x":1977,"f":37.5,"lo":35.8,"hi":39.2},{"p":"C EU","x":1982,"f":45.5,"lo":43.8,"hi":47.2},{"p":"C EU","x":1987,"f":56,"lo":54.3,"hi":57.7},{"p":"C EU","x":1992,"f":61,"lo":59.3,"hi":62.7},{"p":"C EU","x":1997,"f":65.5,"lo":63.8,"hi":67.2},{"p":"C EU","x":2002,"f":68.5,"lo":66.8,"hi":70.2},{"p":"C EU","x":2007,"f":71.5,"lo":69.7,"hi":73.3},{"p":"C EU","x":2012,"f":73,"lo":69.5,"hi":76.5},
{"p":"IND & PAK","x":1962,"f":10.5,"lo":8.8,"hi":12.2},{"p":"IND & PAK","x":1967,"f":14.5,"lo":13.2,"hi":15.8},{"p":"IND & PAK","x":1972,"f":24.5,"lo":23.2,"hi":25.8},{"p":"IND & PAK","x":1977,"f":30.5,"lo":29.2,"hi":31.8},{"p":"IND & PAK","x":1982,"f":41.5,"lo":40.2,"hi":42.8},{"p":"IND & PAK","x":1987,"f":48.5,"lo":47.2,"hi":49.8},{"p":"IND & PAK","x":1992,"f":57.5,"lo":56.2,"hi":58.8},{"p":"IND & PAK","x":1997,"f":69.5,"lo":68.2,"hi":70.8},{"p":"IND & PAK","x":2002,"f":75,"lo":73.7,"hi":76.3},{"p":"IND & PAK","x":2007,"f":80,"lo":78.7,"hi":81.3},{"p":"IND & PAK","x":2012,"f":96,"lo":93,"hi":99},
{"p":"CHN","x":1962,"f":8.5,"lo":6.3,"hi":10.7},{"p":"CHN","x":1967,"f":13.5,"lo":12,"hi":15},{"p":"CHN","x":1972,"f":20.3,"lo":18.8,"hi":21.8},{"p":"CHN","x":1977,"f":30,"lo":28.5,"hi":31.5},{"p":"CHN","x":1982,"f":42,"lo":40.5,"hi":43.5},{"p":"CHN","x":1987,"f":51,"lo":49.5,"hi":52.5},{"p":"CHN","x":1992,"f":59.5,"lo":58,"hi":61},{"p":"CHN","x":1997,"f":64.5,"lo":63,"hi":66},{"p":"CHN","x":2002,"f":66.5,"lo":64.7,"hi":68.3},{"p":"CHN","x":2007,"f":70.5,"lo":68.5,"hi":72.5},{"p":"CHN","x":2012,"f":76,"lo":72.5,"hi":79.5},
{"p":"N USA & CAN","x":1962,"f":18,"lo":14.5,"hi":21.5},{"p":"N USA & CAN","x":1967,"f":22.5,"lo":20,"hi":25},{"p":"N USA & CAN","x":1972,"f":26,"lo":24,"hi":28},{"p":"N USA & CAN","x":1977,"f":29.5,"lo":27.5,"hi":31.5},{"p":"N USA & CAN","x":1982,"f":32.3,"lo":30.3,"hi":34.3},{"p":"N USA & CAN","x":1987,"f":35.2,"lo":33.2,"hi":37.2},{"p":"N USA & CAN","x":1992,"f":36.3,"lo":34.3,"hi":38.3},{"p":"N USA & CAN","x":1997,"f":35.8,"lo":33.8,"hi":37.8},{"p":"N USA & CAN","x":2002,"f":35,"lo":33,"hi":37},{"p":"N USA & CAN","x":2007,"f":34.2,"lo":32,"hi":36.4},{"p":"N USA & CAN","x":2012,"f":33.2,"lo":30,"hi":36.4},
{"p":"TUR","x":1962,"f":8.5,"lo":7.3,"hi":9.7},{"p":"TUR","x":1967,"f":10.3,"lo":9.5,"hi":11.1},{"p":"TUR","x":1972,"f":13.8,"lo":13,"hi":14.6},{"p":"TUR","x":1977,"f":17.1,"lo":16.3,"hi":17.9},{"p":"TUR","x":1982,"f":19,"lo":18.2,"hi":19.8},{"p":"TUR","x":1987,"f":20.6,"lo":19.8,"hi":21.4},{"p":"TUR","x":1992,"f":21.9,"lo":21.1,"hi":22.7},{"p":"TUR","x":1997,"f":22.5,"lo":21.7,"hi":23.3},{"p":"TUR","x":2002,"f":22.6,"lo":21.8,"hi":23.4},{"p":"TUR","x":2007,"f":22.5,"lo":21.7,"hi":23.3},{"p":"TUR","x":2012,"f":22.3,"lo":21,"hi":23.6},
{"p":"CS USA","x":1962,"f":9.3,"lo":7.5,"hi":11.1},{"p":"CS USA","x":1967,"f":12.2,"lo":11,"hi":13.4},{"p":"CS USA","x":1972,"f":15.3,"lo":14.1,"hi":16.5},{"p":"CS USA","x":1977,"f":17.7,"lo":16.5,"hi":18.9},{"p":"CS USA","x":1982,"f":18.6,"lo":17.4,"hi":19.8},{"p":"CS USA","x":1987,"f":18.4,"lo":17.2,"hi":19.6},{"p":"CS USA","x":1992,"f":17.8,"lo":16.6,"hi":19},{"p":"CS USA","x":1997,"f":17.3,"lo":16.1,"hi":18.5},{"p":"CS USA","x":2002,"f":16.9,"lo":15.7,"hi":18.1},{"p":"CS USA","x":2007,"f":16.6,"lo":15.4,"hi":17.8},{"p":"CS USA","x":2012,"f":16.2,"lo":14.5,"hi":17.9},
{"p":"ARG","x":1962,"f":5.2,"lo":4,"hi":6.4},{"p":"ARG","x":1967,"f":5.8,"lo":5,"hi":6.6},{"p":"ARG","x":1972,"f":6.6,"lo":5.9,"hi":7.3},{"p":"ARG","x":1977,"f":7.4,"lo":6.7,"hi":8.1},{"p":"ARG","x":1982,"f":8.2,"lo":7.5,"hi":8.9},{"p":"ARG","x":1987,"f":8.9,"lo":8.2,"hi":9.6},{"p":"ARG","x":1992,"f":9.5,"lo":8.8,"hi":10.2},{"p":"ARG","x":1997,"f":10,"lo":9.3,"hi":10.7},{"p":"ARG","x":2002,"f":10.3,"lo":9.6,"hi":11},{"p":"ARG","x":2007,"f":10.3,"lo":9.5,"hi":11.1},{"p":"ARG","x":2012,"f":10.1,"lo":8.8,"hi":11.4},
{"p":"SE AUS","x":1962,"f":3.7,"lo":2.5,"hi":4.9},{"p":"SE AUS","x":1967,"f":4.1,"lo":3.4,"hi":4.8},{"p":"SE AUS","x":1972,"f":4.5,"lo":3.8,"hi":5.2},{"p":"SE AUS","x":1977,"f":4.9,"lo":4.2,"hi":5.6},{"p":"SE AUS","x":1982,"f":5.3,"lo":4.6,"hi":6},{"p":"SE AUS","x":1987,"f":5.7,"lo":5,"hi":6.4},{"p":"SE AUS","x":1992,"f":6.2,"lo":5.5,"hi":6.9},{"p":"SE AUS","x":1997,"f":6.8,"lo":6.1,"hi":7.5},{"p":"SE AUS","x":2002,"f":7.5,"lo":6.8,"hi":8.2},{"p":"SE AUS","x":2007,"f":8.3,"lo":7.5,"hi":9.1},{"p":"SE AUS","x":2012,"f":9.2,"lo":7.8,"hi":10.6},
{"p":"EGY","x":1962,"f":1.5,"lo":1.1,"hi":1.9},{"p":"EGY","x":1967,"f":1.4,"lo":1.1,"hi":1.7},{"p":"EGY","x":1972,"f":1.3,"lo":1,"hi":1.6},{"p":"EGY","x":1977,"f":1.5,"lo":1.2,"hi":1.8},{"p":"EGY","x":1982,"f":1.8,"lo":1.5,"hi":2.1},{"p":"EGY","x":1987,"f":2.4,"lo":2.1,"hi":2.7},{"p":"EGY","x":1992,"f":5,"lo":4.7,"hi":5.3},{"p":"EGY","x":1997,"f":6.1,"lo":5.8,"hi":6.4},{"p":"EGY","x":2002,"f":7.1,"lo":6.8,"hi":7.4},{"p":"EGY","x":2007,"f":8.1,"lo":7.8,"hi":8.4},{"p":"EGY","x":2012,"f":9.3,"lo":8.8,"hi":9.8}
]
},
"columns":1,
"center":true,
"spacing":35.5,
"concat":[
{"spacing":-1,"vconcat":[
{"data":{"name":"maize"},"transform":[{"aggregate":[{"op":"count","as":"n"}],"groupby":["p"]}],
"facet":{"column":{"field":"p","type":"nominal","sort":["USA","CHN","E EU & UKR","BRA","C EU","MEX","ARG","S AFR","E AFR","W AFR","IDN"],"header":{"title":null,"labels":false}}},
"spacing":8,"bounds":"flush",
"spec":{"width":89,"height":24.5,"view":{"fill":"#D9D9D9","stroke":"#333333"},"mark":{"type":"text","fontSize":12.5,"color":"#1A1A1A","font":"Liberation Sans"},"encoding":{"text":{"field":"p"}}}},
{"data":{"name":"maize"},
"facet":{"column":{"field":"p","type":"nominal","sort":["USA","CHN","E EU & UKR","BRA","C EU","MEX","ARG","S AFR","E AFR","W AFR","IDN"],"header":{"title":null,"labels":false}}},
"spacing":8,"bounds":"flush",
"spec":{"width":89,"height":364,"view":{"fill":"white","stroke":"#333333"},
"encoding":{
"x":{"field":"x","type":"quantitative","scale":{"domain":[1959.3,2014.7],"nice":false,"zero":false},"axis":{"title":null,"values":[1960,1970,1980,1990,2000,2010],"labelExpr":"datum.value % 20 == 0 ? '' + datum.value : ''","labelAngle":-45,"labelFontSize":{"condition":{"test":"datum.value % 20 == 0","value":12.5},"value":0},"gridWidth":{"condition":{"test":"datum.value % 20 == 0","value":1.1},"value":0.6},"tickColor":{"condition":{"test":"datum.value % 20 == 0","value":"#333333"},"value":"transparent"}}},
"y":{"field":"y","type":"quantitative","scale":{"domain":[-11.9,270.6],"nice":false,"zero":false},"axis":{"title":"maize production (mt)","values":[-10,0,10,20,30,40,50,60,70,80,90,100,110,120,130,140,150,160,170,180,190,200,210,220,230,240,250,260,270],"labelExpr":"datum.value % 20 == 0 ? replace(format(datum.value * 1000000, '.1e'), 'e+', 'e+0') : ''","labelFontSize":{"condition":{"test":"datum.value % 20 == 0","value":12.5},"value":0},"gridWidth":{"condition":{"test":"datum.value % 20 == 0","value":1.1},"value":0.6},"tickColor":{"condition":{"test":"datum.value % 20 == 0","value":"#333333"},"value":"transparent"}}}
},
"layer":[
{"transform":[{"filter":"datum.y != null"}],"mark":{"type":"circle","size":26,"color":"#000000","opacity":0.5}},
{"transform":[{"filter":"datum.f != null"}],"mark":{"type":"area","color":"#999999","opacity":0.4,"interpolate":"monotone"},"encoding":{"y":{"field":"lo","type":"quantitative","scale":{"domain":[-11.9,270.6],"nice":false,"zero":false}},"y2":{"field":"hi"}}},
{"transform":[{"filter":"datum.f != null"}],"mark":{"type":"line","color":"#FF0000","strokeWidth":3,"interpolate":"monotone"},"encoding":{"y":{"field":"f","type":"quantitative","scale":{"domain":[-11.9,270.6],"nice":false,"zero":false}}}}
]}}
]},
{"spacing":-1,"vconcat":[
{"data":{"name":"soy"},"transform":[{"aggregate":[{"op":"count","as":"n"}],"groupby":["p"]}],
"facet":{"column":{"field":"p","type":"nominal","sort":["USA","S BRA","ARG","C BRA","IND","NE CHN","E CHN"],"header":{"title":null,"labels":false}}},
"spacing":8.5,"bounds":"flush",
"spec":{"width":145.5,"height":24.5,"view":{"fill":"#D9D9D9","stroke":"#333333"},"mark":{"type":"text","fontSize":12.5,"color":"#1A1A1A","font":"Liberation Sans"},
"encoding":{"text":{"field":"p"},"y":{"datum":1,"type":"quantitative","scale":{"domain":[0,2]},"axis":{"orient":"right","values":[1],"labelExpr":"'0'","labelFontSize":6.6,"labelColor":"transparent","tickColor":"transparent","grid":false,"title":null}}}}},
{"data":{"name":"soy"},
"facet":{"column":{"field":"p","type":"nominal","sort":["USA","S BRA","ARG","C BRA","IND","NE CHN","E CHN"],"header":{"title":null,"labels":false}}},
"spacing":8.5,"bounds":"flush",
"spec":{"width":145.5,"height":364,"view":{"fill":"white","stroke":"#333333"},
"encoding":{
"x":{"field":"x","type":"quantitative","scale":{"domain":[1959.3,2014.7],"nice":false,"zero":false},"axis":{"title":null,"values":[1960,1970,1980,1990,2000,2010],"labelExpr":"datum.value % 20 == 0 ? '' + datum.value : ''","labelAngle":-45,"labelFontSize":{"condition":{"test":"datum.value % 20 == 0","value":12.5},"value":0},"gridWidth":{"condition":{"test":"datum.value % 20 == 0","value":1.1},"value":0.6},"tickColor":{"condition":{"test":"datum.value % 20 == 0","value":"#333333"},"value":"transparent"}}},
"y":{"field":"y","type":"quantitative","scale":{"domain":[-8,74.9],"nice":false,"zero":false},"axis":{"title":"soybean production (mt)","values":[-5,0,5,10,15,20,25,30,35,40,45,50,55,60,65,70],"labelExpr":"datum.value % 10 == 0 ? replace(format(datum.value * 1000000, '.0e'), 'e+', 'e+0') : ''","labelFontSize":{"condition":{"test":"datum.value % 10 == 0","value":12.5},"value":0},"gridWidth":{"condition":{"test":"datum.value % 10 == 0","value":1.1},"value":0.6},"tickColor":{"condition":{"test":"datum.value % 10 == 0","value":"#333333"},"value":"transparent"}}}
},
"layer":[
{"transform":[{"filter":"datum.y != null"}],"mark":{"type":"circle","size":26,"color":"#000000","opacity":0.5}},
{"transform":[{"filter":"datum.f != null"}],"mark":{"type":"area","color":"#999999","opacity":0.4,"interpolate":"monotone"},"encoding":{"y":{"field":"lo","type":"quantitative","scale":{"domain":[-8,74.9],"nice":false,"zero":false}},"y2":{"field":"hi"}}},
{"transform":[{"filter":"datum.f != null"}],"mark":{"type":"line","color":"#FF0000","strokeWidth":3,"interpolate":"monotone"},"encoding":{"y":{"field":"f","type":"quantitative","scale":{"domain":[-8,74.9],"nice":false,"zero":false}}}}
]}}
]},
{"spacing":-1,"vconcat":[
{"data":{"name":"wheat"},"transform":[{"aggregate":[{"op":"count","as":"n"}],"groupby":["p"]}],
"facet":{"column":{"field":"p","type":"nominal","sort":["E EU & RUS","C EU","IND & PAK","CHN","N USA & CAN","TUR","CS USA","ARG","SE AUS","EGY"],"header":{"title":null,"labels":false}}},
"spacing":8.4,"bounds":"flush",
"spec":{"width":99.6,"height":24.5,"view":{"fill":"#D9D9D9","stroke":"#333333"},"mark":{"type":"text","fontSize":12.5,"color":"#1A1A1A","font":"Liberation Sans"},
"encoding":{"text":{"field":"p"},"y":{"datum":1,"type":"quantitative","scale":{"domain":[0,2]},"axis":{"orient":"right","values":[1],"labelExpr":"'0'","labelFontSize":2.9,"labelColor":"transparent","tickColor":"transparent","grid":false,"title":null}}}}},
{"data":{"name":"wheat"},
"facet":{"column":{"field":"p","type":"nominal","sort":["E EU & RUS","C EU","IND & PAK","CHN","N USA & CAN","TUR","CS USA","ARG","SE AUS","EGY"],"header":{"title":null,"labels":false}}},
"spacing":8.4,"bounds":"flush",
"spec":{"width":99.6,"height":363,"view":{"fill":"white","stroke":"#333333"},
"encoding":{
"x":{"field":"x","type":"quantitative","scale":{"domain":[1959.3,2014.7],"nice":false,"zero":false},"axis":{"title":null,"values":[1960,1970,1980,1990,2000,2010],"labelExpr":"datum.value % 20 == 0 ? '' + datum.value : ''","labelAngle":-45,"labelFontSize":{"condition":{"test":"datum.value % 20 == 0","value":12.5},"value":0},"gridWidth":{"condition":{"test":"datum.value % 20 == 0","value":1.1},"value":0.6},"tickColor":{"condition":{"test":"datum.value % 20 == 0","value":"#333333"},"value":"transparent"}}},
"y":{"field":"y","type":"quantitative","scale":{"domain":[-3.7,102.4],"nice":false,"zero":false},"axis":{"title":"wheat production (mt)","values":[0,5,10,15,20,25,30,35,40,45,50,55,60,65,70,75,80,85,90,95,100],"labelExpr":"datum.value % 10 == 0 ? replace(format(datum.value * 1000000, '.0e'), 'e+', 'e+0') : ''","labelFontSize":{"condition":{"test":"datum.value % 10 == 0","value":12.5},"value":0},"gridWidth":{"condition":{"test":"datum.value % 10 == 0","value":1.1},"value":0.6},"tickColor":{"condition":{"test":"datum.value % 10 == 0","value":"#333333"},"value":"transparent"}}}
},
"layer":[
{"transform":[{"filter":"datum.y != null"}],"mark":{"type":"circle","size":26,"color":"#000000","opacity":0.5}},
{"transform":[{"filter":"datum.f != null"}],"mark":{"type":"area","color":"#999999","opacity":0.4,"interpolate":"monotone"},"encoding":{"y":{"field":"lo","type":"quantitative","scale":{"domain":[-3.7,102.4],"nice":false,"zero":false}},"y2":{"field":"hi"}}},
{"transform":[{"filter":"datum.f != null"}],"mark":{"type":"line","color":"#FF0000","strokeWidth":3,"interpolate":"monotone"},"encoding":{"y":{"field":"f","type":"quantitative","scale":{"domain":[-3.7,102.4],"nice":false,"zero":false}}}}
]}}
]}
]
}
